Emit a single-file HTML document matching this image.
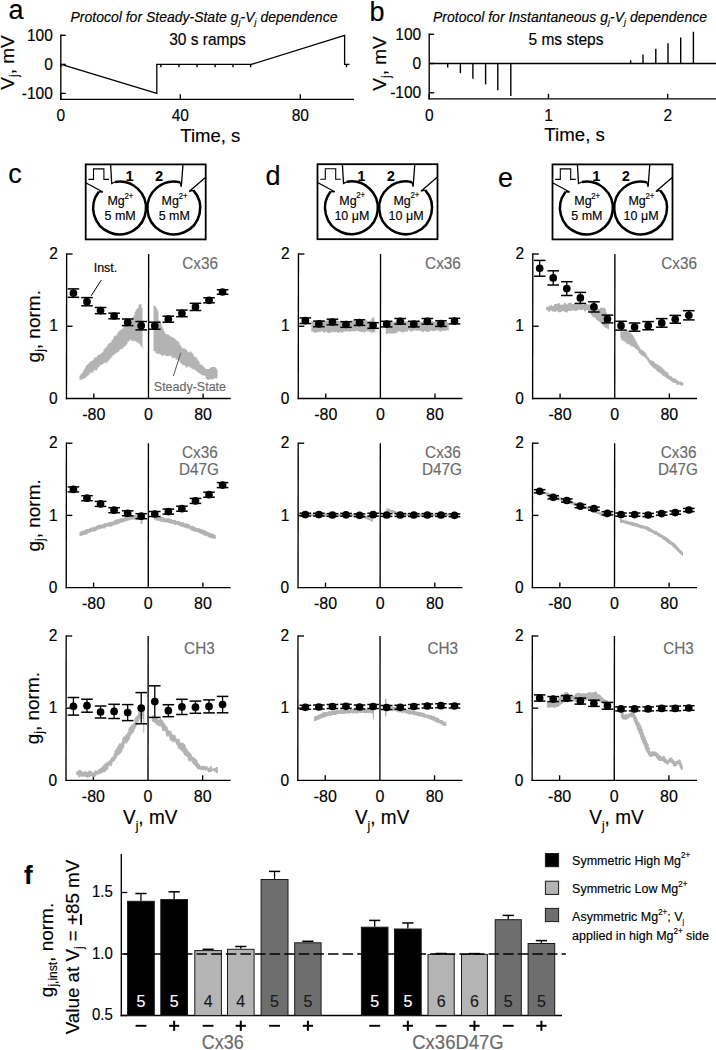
<!DOCTYPE html>
<html><head><meta charset="utf-8"><style>
html,body{margin:0;padding:0;background:#fff;width:716px;height:1050px;overflow:hidden}
svg{display:block}
text{font-family:"Liberation Sans", sans-serif;stroke-linejoin:round}
</style></head><body>
<svg width="716" height="1050" viewBox="0 0 716 1050">
<rect width="716" height="1050" fill="#fff"/>
<line x1="60.8" y1="34.6" x2="60.8" y2="99.95" stroke="#000" stroke-width="1.35" />
<line x1="60.15" y1="99.3" x2="354" y2="99.3" stroke="#000" stroke-width="1.35" />
<line x1="60.8" y1="35.3" x2="65.8" y2="35.3" stroke="#000" stroke-width="1.35" />
<line x1="60.8" y1="64.4" x2="65.8" y2="64.4" stroke="#000" stroke-width="1.35" />
<line x1="60.8" y1="93.4" x2="65.8" y2="93.4" stroke="#000" stroke-width="1.35" />
<line x1="60.8" y1="99.3" x2="60.8" y2="94.3" stroke="#000" stroke-width="1.35" />
<line x1="180.3" y1="99.3" x2="180.3" y2="94.3" stroke="#000" stroke-width="1.35" />
<line x1="300.3" y1="99.3" x2="300.3" y2="94.3" stroke="#000" stroke-width="1.35" />
<text transform="translate(52.8,40.8) scale(1,1.08)" font-size="15.5" text-anchor="end" fill="#000" stroke="#000" stroke-width="0.15" font-weight="normal" font-style="normal" >100</text>
<text transform="translate(52.8,69.9) scale(1,1.08)" font-size="15.5" text-anchor="end" fill="#000" stroke="#000" stroke-width="0.15" font-weight="normal" font-style="normal" >0</text>
<text transform="translate(52.8,98.9) scale(1,1.08)" font-size="15.5" text-anchor="end" fill="#000" stroke="#000" stroke-width="0.15" font-weight="normal" font-style="normal" >-100</text>
<text transform="translate(60.8,121.4) scale(1,1.08)" font-size="15.5" text-anchor="middle" fill="#000" stroke="#000" stroke-width="0.15" font-weight="normal" font-style="normal" >0</text>
<text transform="translate(180.3,121.4) scale(1,1.08)" font-size="15.5" text-anchor="middle" fill="#000" stroke="#000" stroke-width="0.15" font-weight="normal" font-style="normal" >40</text>
<text transform="translate(300.3,121.4) scale(1,1.08)" font-size="15.5" text-anchor="middle" fill="#000" stroke="#000" stroke-width="0.15" font-weight="normal" font-style="normal" >80</text>
<polyline points="61.2,64.4 156.8,93.4 156.8,64.4 251.4,64.4 344.6,35.3 344.6,64.4 349.5,64.4" fill="none" stroke="#000" stroke-width="1.3" stroke-linejoin="miter"/>
<line x1="60.8" y1="64.4" x2="60.8" y2="67.2" stroke="#000" stroke-width="1.4" />
<line x1="160.9" y1="64.4" x2="160.9" y2="67.2" stroke="#000" stroke-width="1.4" />
<line x1="179" y1="64.4" x2="179" y2="67.2" stroke="#000" stroke-width="1.4" />
<line x1="197" y1="64.4" x2="197" y2="67.2" stroke="#000" stroke-width="1.4" />
<line x1="215.1" y1="64.4" x2="215.1" y2="67.2" stroke="#000" stroke-width="1.4" />
<line x1="233" y1="64.4" x2="233" y2="67.2" stroke="#000" stroke-width="1.4" />
<line x1="250.6" y1="64.4" x2="250.6" y2="67.2" stroke="#000" stroke-width="1.4" />
<line x1="346.5" y1="64.4" x2="346.5" y2="67.2" stroke="#000" stroke-width="1.4" />
<line x1="429.2" y1="33.6" x2="429.2" y2="99.45" stroke="#000" stroke-width="1.35" />
<line x1="428.55" y1="98.8" x2="716" y2="98.8" stroke="#000" stroke-width="1.35" />
<line x1="429.2" y1="34.3" x2="434.2" y2="34.3" stroke="#000" stroke-width="1.35" />
<line x1="429.2" y1="63.5" x2="434.2" y2="63.5" stroke="#000" stroke-width="1.35" />
<line x1="429.2" y1="92.8" x2="434.2" y2="92.8" stroke="#000" stroke-width="1.35" />
<line x1="429.2" y1="98.8" x2="429.2" y2="93.8" stroke="#000" stroke-width="1.35" />
<line x1="548.5" y1="98.8" x2="548.5" y2="93.8" stroke="#000" stroke-width="1.35" />
<line x1="667.7" y1="98.8" x2="667.7" y2="93.8" stroke="#000" stroke-width="1.35" />
<text transform="translate(421.2,39.8) scale(1,1.08)" font-size="15.5" text-anchor="end" fill="#000" stroke="#000" stroke-width="0.15" font-weight="normal" font-style="normal" >100</text>
<text transform="translate(421.2,69) scale(1,1.08)" font-size="15.5" text-anchor="end" fill="#000" stroke="#000" stroke-width="0.15" font-weight="normal" font-style="normal" >0</text>
<text transform="translate(421.2,98.3) scale(1,1.08)" font-size="15.5" text-anchor="end" fill="#000" stroke="#000" stroke-width="0.15" font-weight="normal" font-style="normal" >-100</text>
<text transform="translate(429.2,121.4) scale(1,1.08)" font-size="15.5" text-anchor="middle" fill="#000" stroke="#000" stroke-width="0.15" font-weight="normal" font-style="normal" >0</text>
<text transform="translate(548.5,121.4) scale(1,1.08)" font-size="15.5" text-anchor="middle" fill="#000" stroke="#000" stroke-width="0.15" font-weight="normal" font-style="normal" >1</text>
<text transform="translate(667.7,121.4) scale(1,1.08)" font-size="15.5" text-anchor="middle" fill="#000" stroke="#000" stroke-width="0.15" font-weight="normal" font-style="normal" >2</text>
<line x1="429.2" y1="63.5" x2="716" y2="63.5" stroke="#000" stroke-width="1.35" />
<line x1="447.7" y1="63.5" x2="447.7" y2="67.4" stroke="#000" stroke-width="1.4" />
<line x1="460.4" y1="63.5" x2="460.4" y2="73" stroke="#000" stroke-width="1.4" />
<line x1="472.9" y1="63.5" x2="472.9" y2="78.8" stroke="#000" stroke-width="1.4" />
<line x1="485.6" y1="63.5" x2="485.6" y2="84.4" stroke="#000" stroke-width="1.4" />
<line x1="497.8" y1="63.5" x2="497.8" y2="90.2" stroke="#000" stroke-width="1.4" />
<line x1="510.8" y1="63.5" x2="510.8" y2="96.1" stroke="#000" stroke-width="1.4" />
<line x1="630.6" y1="63.5" x2="630.6" y2="60.2" stroke="#000" stroke-width="1.4" />
<line x1="643" y1="63.5" x2="643" y2="54.6" stroke="#000" stroke-width="1.4" />
<line x1="655.8" y1="63.5" x2="655.8" y2="48.8" stroke="#000" stroke-width="1.4" />
<line x1="668" y1="63.5" x2="668" y2="43.2" stroke="#000" stroke-width="1.4" />
<line x1="680.7" y1="63.5" x2="680.7" y2="37.4" stroke="#000" stroke-width="1.4" />
<line x1="693.4" y1="63.5" x2="693.4" y2="31.8" stroke="#000" stroke-width="1.4" />
<text transform="translate(70.5,22) scale(1,1.08)" font-size="14" text-anchor="start" fill="#000" stroke="#000" stroke-width="0.15" font-weight="normal" font-style="italic" >Protocol for Steady-State g<tspan font-size="9" dy="3">j</tspan><tspan dy="-3">-V</tspan><tspan font-size="9" dy="3">j</tspan><tspan dy="-3"> dependence</tspan></text>
<text transform="translate(433,22) scale(1,1.08)" font-size="14" text-anchor="start" fill="#000" stroke="#000" stroke-width="0.15" font-weight="normal" font-style="italic" >Protocol for Instantaneous g<tspan font-size="9" dy="3">j</tspan><tspan dy="-3">-V</tspan><tspan font-size="9" dy="3">j</tspan><tspan dy="-3"> dependence</tspan></text>
<text transform="translate(207.5,45.4) scale(1,1.08)" font-size="15.5" text-anchor="middle" fill="#000" stroke="#000" stroke-width="0.15" font-weight="normal" font-style="normal" >30 s ramps</text>
<text transform="translate(566,45.4) scale(1,1.08)" font-size="15.5" text-anchor="middle" fill="#000" stroke="#000" stroke-width="0.15" font-weight="normal" font-style="normal" >5 ms steps</text>
<text transform="translate(210.3,141.6) scale(1,1)" font-size="18.5" text-anchor="middle" fill="#000" stroke="#000" stroke-width="0.15" font-weight="normal" font-style="normal" >Time, s</text>
<text transform="translate(574.6,141.3) scale(1,1)" font-size="18.7" text-anchor="middle" fill="#000" stroke="#000" stroke-width="0.15" font-weight="normal" font-style="normal" >Time, s</text>
<text transform="translate(13.8,62.5) rotate(-90)" font-size="19" text-anchor="middle" fill="#000" stroke="#000" stroke-width="0.15">V<tspan font-size="12" dy="4">j</tspan><tspan dy="-4">, mV</tspan></text>
<text transform="translate(386,63.5) rotate(-90)" font-size="19" text-anchor="middle" fill="#000" stroke="#000" stroke-width="0.15">V<tspan font-size="12" dy="4">j</tspan><tspan dy="-4">, mV</tspan></text>
<text transform="translate(8.5,19) scale(1,1)" font-size="27" text-anchor="start" fill="#000" stroke="#000" stroke-width="0.15" font-weight="normal" font-style="normal" >a</text>
<text transform="translate(369.6,21) scale(1,1)" font-size="27" text-anchor="start" fill="#000" stroke="#000" stroke-width="0.15" font-weight="normal" font-style="normal" >b</text>
<rect x="85.7" y="164.4" width="120" height="75" fill="none" stroke="#000" stroke-width="1.8"/>
<path d="M115.02,182 A26.4,26.4 0 1 1 98.8,191.75" fill="none" stroke="#000" stroke-width="2.5"/>
<polyline points="85.7,182.7 102.9,192 98.8,191.75" fill="none" stroke="#000" stroke-width="1.3" stroke-linejoin="miter"/>
<polyline points="110.6,164.4 111.7,183.6 115.02,182" fill="none" stroke="#000" stroke-width="1.3" stroke-linejoin="miter"/>
<path d="M193.42,190.33 A26.4,26.4 0 1 1 180.19,182.38" fill="none" stroke="#000" stroke-width="2.5"/>
<polyline points="205.7,177.3 189.1,191.4 193.42,190.33" fill="none" stroke="#000" stroke-width="1.3" stroke-linejoin="miter"/>
<polyline points="183,164.4 181.3,186.8 180.19,182.38" fill="none" stroke="#000" stroke-width="1.3" stroke-linejoin="miter"/>
<polyline points="88.4,179.4 93.5,179.4 93.5,168.9 103.9,168.9 103.9,179.4 109,179.4" fill="none" stroke="#000" stroke-width="1.1" stroke-linejoin="miter"/>
<text transform="translate(129.6,180.8) scale(1,1.0)" font-size="14" text-anchor="middle" fill="#000" stroke="#000" stroke-width="0.15" font-weight="bold" font-style="normal" >1</text>
<text transform="translate(159.2,180.8) scale(1,1.0)" font-size="14" text-anchor="middle" fill="#000" stroke="#000" stroke-width="0.15" font-weight="bold" font-style="normal" >2</text>
<text transform="translate(116.1,205) scale(1,1.08)" font-size="12.5" text-anchor="middle" fill="#000" stroke="#000" stroke-width="0.15" font-weight="normal" font-style="normal" >Mg</text>
<text transform="translate(128.9,198.6) scale(1,1.08)" font-size="7.8" text-anchor="middle" fill="#000" stroke="#000" stroke-width="0.15" font-weight="normal" font-style="normal" >2+</text>
<text transform="translate(120.1,220) scale(1,1.08)" font-size="12.5" text-anchor="middle" fill="#000" stroke="#000" stroke-width="0.15" font-weight="normal" font-style="normal" >5 mM</text>
<text transform="translate(170.3,205) scale(1,1.08)" font-size="12.5" text-anchor="middle" fill="#000" stroke="#000" stroke-width="0.15" font-weight="normal" font-style="normal" >Mg</text>
<text transform="translate(183.1,198.6) scale(1,1.08)" font-size="7.8" text-anchor="middle" fill="#000" stroke="#000" stroke-width="0.15" font-weight="normal" font-style="normal" >2+</text>
<text transform="translate(174.3,220) scale(1,1.08)" font-size="12.5" text-anchor="middle" fill="#000" stroke="#000" stroke-width="0.15" font-weight="normal" font-style="normal" >5 mM</text>
<rect x="317.5" y="164.2" width="120" height="75" fill="none" stroke="#000" stroke-width="1.8"/>
<path d="M346.82,181.8 A26.4,26.4 0 1 1 330.6,191.55" fill="none" stroke="#000" stroke-width="2.5"/>
<polyline points="317.5,182.5 334.7,191.8 330.6,191.55" fill="none" stroke="#000" stroke-width="1.3" stroke-linejoin="miter"/>
<polyline points="342.4,164.2 343.5,183.4 346.82,181.8" fill="none" stroke="#000" stroke-width="1.3" stroke-linejoin="miter"/>
<path d="M425.22,190.13 A26.4,26.4 0 1 1 411.99,182.18" fill="none" stroke="#000" stroke-width="2.5"/>
<polyline points="437.5,177.1 420.9,191.2 425.22,190.13" fill="none" stroke="#000" stroke-width="1.3" stroke-linejoin="miter"/>
<polyline points="414.8,164.2 413.1,186.6 411.99,182.18" fill="none" stroke="#000" stroke-width="1.3" stroke-linejoin="miter"/>
<polyline points="320.2,179.2 325.3,179.2 325.3,168.7 335.7,168.7 335.7,179.2 340.8,179.2" fill="none" stroke="#000" stroke-width="1.1" stroke-linejoin="miter"/>
<text transform="translate(361.4,180.6) scale(1,1.0)" font-size="14" text-anchor="middle" fill="#000" stroke="#000" stroke-width="0.15" font-weight="bold" font-style="normal" >1</text>
<text transform="translate(391,180.6) scale(1,1.0)" font-size="14" text-anchor="middle" fill="#000" stroke="#000" stroke-width="0.15" font-weight="bold" font-style="normal" >2</text>
<text transform="translate(347.9,204.8) scale(1,1.08)" font-size="12.5" text-anchor="middle" fill="#000" stroke="#000" stroke-width="0.15" font-weight="normal" font-style="normal" >Mg</text>
<text transform="translate(360.7,198.4) scale(1,1.08)" font-size="7.8" text-anchor="middle" fill="#000" stroke="#000" stroke-width="0.15" font-weight="normal" font-style="normal" >2+</text>
<text transform="translate(351.9,219.8) scale(1,1.08)" font-size="12.5" text-anchor="middle" fill="#000" stroke="#000" stroke-width="0.15" font-weight="normal" font-style="normal" >10 &#956;M</text>
<text transform="translate(402.1,204.8) scale(1,1.08)" font-size="12.5" text-anchor="middle" fill="#000" stroke="#000" stroke-width="0.15" font-weight="normal" font-style="normal" >Mg</text>
<text transform="translate(414.9,198.4) scale(1,1.08)" font-size="7.8" text-anchor="middle" fill="#000" stroke="#000" stroke-width="0.15" font-weight="normal" font-style="normal" >2+</text>
<text transform="translate(406.1,219.8) scale(1,1.08)" font-size="12.5" text-anchor="middle" fill="#000" stroke="#000" stroke-width="0.15" font-weight="normal" font-style="normal" >10 &#956;M</text>
<rect x="552.5" y="164.4" width="120" height="75" fill="none" stroke="#000" stroke-width="1.8"/>
<path d="M581.82,182 A26.4,26.4 0 1 1 565.6,191.75" fill="none" stroke="#000" stroke-width="2.5"/>
<polyline points="552.5,182.7 569.7,192 565.6,191.75" fill="none" stroke="#000" stroke-width="1.3" stroke-linejoin="miter"/>
<polyline points="577.4,164.4 578.5,183.6 581.82,182" fill="none" stroke="#000" stroke-width="1.3" stroke-linejoin="miter"/>
<path d="M660.22,190.33 A26.4,26.4 0 1 1 646.99,182.38" fill="none" stroke="#000" stroke-width="2.5"/>
<polyline points="672.5,177.3 655.9,191.4 660.22,190.33" fill="none" stroke="#000" stroke-width="1.3" stroke-linejoin="miter"/>
<polyline points="649.8,164.4 648.1,186.8 646.99,182.38" fill="none" stroke="#000" stroke-width="1.3" stroke-linejoin="miter"/>
<polyline points="555.2,179.4 560.3,179.4 560.3,168.9 570.7,168.9 570.7,179.4 575.8,179.4" fill="none" stroke="#000" stroke-width="1.1" stroke-linejoin="miter"/>
<text transform="translate(596.4,180.8) scale(1,1.0)" font-size="14" text-anchor="middle" fill="#000" stroke="#000" stroke-width="0.15" font-weight="bold" font-style="normal" >1</text>
<text transform="translate(626,180.8) scale(1,1.0)" font-size="14" text-anchor="middle" fill="#000" stroke="#000" stroke-width="0.15" font-weight="bold" font-style="normal" >2</text>
<text transform="translate(582.9,205) scale(1,1.08)" font-size="12.5" text-anchor="middle" fill="#000" stroke="#000" stroke-width="0.15" font-weight="normal" font-style="normal" >Mg</text>
<text transform="translate(595.7,198.6) scale(1,1.08)" font-size="7.8" text-anchor="middle" fill="#000" stroke="#000" stroke-width="0.15" font-weight="normal" font-style="normal" >2+</text>
<text transform="translate(586.9,220) scale(1,1.08)" font-size="12.5" text-anchor="middle" fill="#000" stroke="#000" stroke-width="0.15" font-weight="normal" font-style="normal" >5 mM</text>
<text transform="translate(637.1,205) scale(1,1.08)" font-size="12.5" text-anchor="middle" fill="#000" stroke="#000" stroke-width="0.15" font-weight="normal" font-style="normal" >Mg</text>
<text transform="translate(649.9,198.6) scale(1,1.08)" font-size="7.8" text-anchor="middle" fill="#000" stroke="#000" stroke-width="0.15" font-weight="normal" font-style="normal" >2+</text>
<text transform="translate(641.1,220) scale(1,1.08)" font-size="12.5" text-anchor="middle" fill="#000" stroke="#000" stroke-width="0.15" font-weight="normal" font-style="normal" >10 &#956;M</text>
<text transform="translate(8.2,183.2) scale(1,1)" font-size="27" text-anchor="start" fill="#000" stroke="#000" stroke-width="0.15" font-weight="normal" font-style="normal" >c</text>
<text transform="translate(265.4,184.5) scale(1,1)" font-size="27" text-anchor="start" fill="#000" stroke="#000" stroke-width="0.15" font-weight="normal" font-style="normal" >d</text>
<text transform="translate(498,186.6) scale(1,1)" font-size="27" text-anchor="start" fill="#000" stroke="#000" stroke-width="0.15" font-weight="normal" font-style="normal" >e</text>
<line x1="66.65" y1="253.35" x2="66.47" y2="399.15" stroke="#000" stroke-width="1.35" />
<line x1="65.82" y1="398.5" x2="230.7" y2="398.5" stroke="#000" stroke-width="1.35" />
<line x1="66.65" y1="254" x2="72.65" y2="254" stroke="#000" stroke-width="1.35" />
<line x1="66.56" y1="326.25" x2="72.56" y2="326.25" stroke="#000" stroke-width="1.35" />
<line x1="148.65" y1="254" x2="148.47" y2="398.5" stroke="#000" stroke-width="1.35" />
<line x1="93.83" y1="398.5" x2="93.83" y2="393.5" stroke="#000" stroke-width="1.35" />
<line x1="203.11" y1="398.5" x2="203.11" y2="393.5" stroke="#000" stroke-width="1.35" />
<text transform="translate(57.85,259.2) scale(1,1.02)" font-size="15.5" text-anchor="end" fill="#000" stroke="#000" stroke-width="0.15" font-weight="normal" font-style="normal" >2</text>
<text transform="translate(57.76,331.45) scale(1,1.02)" font-size="15.5" text-anchor="end" fill="#000" stroke="#000" stroke-width="0.15" font-weight="normal" font-style="normal" >1</text>
<text transform="translate(57.67,403.7) scale(1,1.02)" font-size="15.5" text-anchor="end" fill="#000" stroke="#000" stroke-width="0.15" font-weight="normal" font-style="normal" >0</text>
<text transform="translate(93.83,420.2) scale(1,1.03)" font-size="16" text-anchor="middle" fill="#000" stroke="#000" stroke-width="0.15" font-weight="normal" font-style="normal" >-80</text>
<text transform="translate(148.47,420.2) scale(1,1.03)" font-size="16" text-anchor="middle" fill="#000" stroke="#000" stroke-width="0.15" font-weight="normal" font-style="normal" >0</text>
<text transform="translate(203.11,420.2) scale(1,1.03)" font-size="16" text-anchor="middle" fill="#000" stroke="#000" stroke-width="0.15" font-weight="normal" font-style="normal" >80</text>
<text transform="translate(39.86,326.25) rotate(-90)" font-size="19" text-anchor="middle" fill="#000" stroke="#000" stroke-width="0.15">g<tspan font-size="12" dy="4">j</tspan><tspan dy="-4">, norm.</tspan></text>
<line x1="66.42" y1="442.55" x2="66.24" y2="588.25" stroke="#000" stroke-width="1.35" />
<line x1="65.59" y1="587.6" x2="230.7" y2="587.6" stroke="#000" stroke-width="1.35" />
<line x1="66.42" y1="443.2" x2="72.42" y2="443.2" stroke="#000" stroke-width="1.35" />
<line x1="66.33" y1="515.4" x2="72.33" y2="515.4" stroke="#000" stroke-width="1.35" />
<line x1="148.42" y1="443.2" x2="148.24" y2="587.6" stroke="#000" stroke-width="1.35" />
<line x1="93.6" y1="587.6" x2="93.6" y2="582.6" stroke="#000" stroke-width="1.35" />
<line x1="202.88" y1="587.6" x2="202.88" y2="582.6" stroke="#000" stroke-width="1.35" />
<text transform="translate(57.62,448.4) scale(1,1.02)" font-size="15.5" text-anchor="end" fill="#000" stroke="#000" stroke-width="0.15" font-weight="normal" font-style="normal" >2</text>
<text transform="translate(57.53,520.6) scale(1,1.02)" font-size="15.5" text-anchor="end" fill="#000" stroke="#000" stroke-width="0.15" font-weight="normal" font-style="normal" >1</text>
<text transform="translate(57.44,592.8) scale(1,1.02)" font-size="15.5" text-anchor="end" fill="#000" stroke="#000" stroke-width="0.15" font-weight="normal" font-style="normal" >0</text>
<text transform="translate(93.6,609.3) scale(1,1.03)" font-size="16" text-anchor="middle" fill="#000" stroke="#000" stroke-width="0.15" font-weight="normal" font-style="normal" >-80</text>
<text transform="translate(148.24,609.3) scale(1,1.03)" font-size="16" text-anchor="middle" fill="#000" stroke="#000" stroke-width="0.15" font-weight="normal" font-style="normal" >0</text>
<text transform="translate(202.88,609.3) scale(1,1.03)" font-size="16" text-anchor="middle" fill="#000" stroke="#000" stroke-width="0.15" font-weight="normal" font-style="normal" >80</text>
<text transform="translate(39.63,515.4) rotate(-90)" font-size="19" text-anchor="middle" fill="#000" stroke="#000" stroke-width="0.15">g<tspan font-size="12" dy="4">j</tspan><tspan dy="-4">, norm.</tspan></text>
<line x1="66.18" y1="635.35" x2="66" y2="780.95" stroke="#000" stroke-width="1.35" />
<line x1="65.35" y1="780.3" x2="230.7" y2="780.3" stroke="#000" stroke-width="1.35" />
<line x1="66.18" y1="636" x2="72.18" y2="636" stroke="#000" stroke-width="1.35" />
<line x1="66.09" y1="708.15" x2="72.09" y2="708.15" stroke="#000" stroke-width="1.35" />
<line x1="148.18" y1="636" x2="148" y2="780.3" stroke="#000" stroke-width="1.35" />
<line x1="93.36" y1="780.3" x2="93.36" y2="775.3" stroke="#000" stroke-width="1.35" />
<line x1="202.64" y1="780.3" x2="202.64" y2="775.3" stroke="#000" stroke-width="1.35" />
<text transform="translate(57.38,641.2) scale(1,1.02)" font-size="15.5" text-anchor="end" fill="#000" stroke="#000" stroke-width="0.15" font-weight="normal" font-style="normal" >2</text>
<text transform="translate(57.29,713.35) scale(1,1.02)" font-size="15.5" text-anchor="end" fill="#000" stroke="#000" stroke-width="0.15" font-weight="normal" font-style="normal" >1</text>
<text transform="translate(57.2,785.5) scale(1,1.02)" font-size="15.5" text-anchor="end" fill="#000" stroke="#000" stroke-width="0.15" font-weight="normal" font-style="normal" >0</text>
<text transform="translate(93.36,802) scale(1,1.03)" font-size="16" text-anchor="middle" fill="#000" stroke="#000" stroke-width="0.15" font-weight="normal" font-style="normal" >-80</text>
<text transform="translate(148,802) scale(1,1.03)" font-size="16" text-anchor="middle" fill="#000" stroke="#000" stroke-width="0.15" font-weight="normal" font-style="normal" >0</text>
<text transform="translate(202.64,802) scale(1,1.03)" font-size="16" text-anchor="middle" fill="#000" stroke="#000" stroke-width="0.15" font-weight="normal" font-style="normal" >80</text>
<text transform="translate(39.39,708.15) rotate(-90)" font-size="19" text-anchor="middle" fill="#000" stroke="#000" stroke-width="0.15">g<tspan font-size="12" dy="4">j</tspan><tspan dy="-4">, norm.</tspan></text>
<text transform="translate(150.2,824) scale(1,1.08)" font-size="19" text-anchor="middle" fill="#000" stroke="#000" stroke-width="0.15" font-weight="normal" font-style="normal" >V<tspan font-size="12" dy="5.5">j</tspan><tspan dy="-5.5">, mV</tspan></text>
<line x1="298.45" y1="253.35" x2="298.27" y2="399.15" stroke="#000" stroke-width="1.35" />
<line x1="297.62" y1="398.5" x2="462.4" y2="398.5" stroke="#000" stroke-width="1.35" />
<line x1="298.45" y1="254" x2="304.45" y2="254" stroke="#000" stroke-width="1.35" />
<line x1="298.36" y1="326.25" x2="304.36" y2="326.25" stroke="#000" stroke-width="1.35" />
<line x1="380.55" y1="254" x2="380.37" y2="398.5" stroke="#000" stroke-width="1.35" />
<line x1="325.73" y1="398.5" x2="325.73" y2="393.5" stroke="#000" stroke-width="1.35" />
<line x1="435.01" y1="398.5" x2="435.01" y2="393.5" stroke="#000" stroke-width="1.35" />
<text transform="translate(289.65,259.2) scale(1,1.02)" font-size="15.5" text-anchor="end" fill="#000" stroke="#000" stroke-width="0.15" font-weight="normal" font-style="normal" >2</text>
<text transform="translate(289.56,331.45) scale(1,1.02)" font-size="15.5" text-anchor="end" fill="#000" stroke="#000" stroke-width="0.15" font-weight="normal" font-style="normal" >1</text>
<text transform="translate(289.47,403.7) scale(1,1.02)" font-size="15.5" text-anchor="end" fill="#000" stroke="#000" stroke-width="0.15" font-weight="normal" font-style="normal" >0</text>
<text transform="translate(325.73,420.2) scale(1,1.03)" font-size="16" text-anchor="middle" fill="#000" stroke="#000" stroke-width="0.15" font-weight="normal" font-style="normal" >-80</text>
<text transform="translate(380.37,420.2) scale(1,1.03)" font-size="16" text-anchor="middle" fill="#000" stroke="#000" stroke-width="0.15" font-weight="normal" font-style="normal" >0</text>
<text transform="translate(435.01,420.2) scale(1,1.03)" font-size="16" text-anchor="middle" fill="#000" stroke="#000" stroke-width="0.15" font-weight="normal" font-style="normal" >80</text>
<line x1="298.22" y1="442.55" x2="298.04" y2="588.25" stroke="#000" stroke-width="1.35" />
<line x1="297.39" y1="587.6" x2="462.4" y2="587.6" stroke="#000" stroke-width="1.35" />
<line x1="298.22" y1="443.2" x2="304.22" y2="443.2" stroke="#000" stroke-width="1.35" />
<line x1="298.13" y1="515.4" x2="304.13" y2="515.4" stroke="#000" stroke-width="1.35" />
<line x1="380.32" y1="443.2" x2="380.14" y2="587.6" stroke="#000" stroke-width="1.35" />
<line x1="325.5" y1="587.6" x2="325.5" y2="582.6" stroke="#000" stroke-width="1.35" />
<line x1="434.78" y1="587.6" x2="434.78" y2="582.6" stroke="#000" stroke-width="1.35" />
<text transform="translate(289.42,448.4) scale(1,1.02)" font-size="15.5" text-anchor="end" fill="#000" stroke="#000" stroke-width="0.15" font-weight="normal" font-style="normal" >2</text>
<text transform="translate(289.33,520.6) scale(1,1.02)" font-size="15.5" text-anchor="end" fill="#000" stroke="#000" stroke-width="0.15" font-weight="normal" font-style="normal" >1</text>
<text transform="translate(289.24,592.8) scale(1,1.02)" font-size="15.5" text-anchor="end" fill="#000" stroke="#000" stroke-width="0.15" font-weight="normal" font-style="normal" >0</text>
<text transform="translate(325.5,609.3) scale(1,1.03)" font-size="16" text-anchor="middle" fill="#000" stroke="#000" stroke-width="0.15" font-weight="normal" font-style="normal" >-80</text>
<text transform="translate(380.14,609.3) scale(1,1.03)" font-size="16" text-anchor="middle" fill="#000" stroke="#000" stroke-width="0.15" font-weight="normal" font-style="normal" >0</text>
<text transform="translate(434.78,609.3) scale(1,1.03)" font-size="16" text-anchor="middle" fill="#000" stroke="#000" stroke-width="0.15" font-weight="normal" font-style="normal" >80</text>
<line x1="297.98" y1="635.35" x2="297.8" y2="780.95" stroke="#000" stroke-width="1.35" />
<line x1="297.15" y1="780.3" x2="462.4" y2="780.3" stroke="#000" stroke-width="1.35" />
<line x1="297.98" y1="636" x2="303.98" y2="636" stroke="#000" stroke-width="1.35" />
<line x1="297.89" y1="708.15" x2="303.89" y2="708.15" stroke="#000" stroke-width="1.35" />
<line x1="380.08" y1="636" x2="379.9" y2="780.3" stroke="#000" stroke-width="1.35" />
<line x1="325.26" y1="780.3" x2="325.26" y2="775.3" stroke="#000" stroke-width="1.35" />
<line x1="434.54" y1="780.3" x2="434.54" y2="775.3" stroke="#000" stroke-width="1.35" />
<text transform="translate(289.18,641.2) scale(1,1.02)" font-size="15.5" text-anchor="end" fill="#000" stroke="#000" stroke-width="0.15" font-weight="normal" font-style="normal" >2</text>
<text transform="translate(289.09,713.35) scale(1,1.02)" font-size="15.5" text-anchor="end" fill="#000" stroke="#000" stroke-width="0.15" font-weight="normal" font-style="normal" >1</text>
<text transform="translate(289,785.5) scale(1,1.02)" font-size="15.5" text-anchor="end" fill="#000" stroke="#000" stroke-width="0.15" font-weight="normal" font-style="normal" >0</text>
<text transform="translate(325.26,802) scale(1,1.03)" font-size="16" text-anchor="middle" fill="#000" stroke="#000" stroke-width="0.15" font-weight="normal" font-style="normal" >-80</text>
<text transform="translate(379.9,802) scale(1,1.03)" font-size="16" text-anchor="middle" fill="#000" stroke="#000" stroke-width="0.15" font-weight="normal" font-style="normal" >0</text>
<text transform="translate(434.54,802) scale(1,1.03)" font-size="16" text-anchor="middle" fill="#000" stroke="#000" stroke-width="0.15" font-weight="normal" font-style="normal" >80</text>
<text transform="translate(382.1,824) scale(1,1.08)" font-size="19" text-anchor="middle" fill="#000" stroke="#000" stroke-width="0.15" font-weight="normal" font-style="normal" >V<tspan font-size="12" dy="5.5">j</tspan><tspan dy="-5.5">, mV</tspan></text>
<line x1="532.8" y1="253.35" x2="532.62" y2="399.15" stroke="#000" stroke-width="1.35" />
<line x1="531.97" y1="398.5" x2="697" y2="398.5" stroke="#000" stroke-width="1.35" />
<line x1="532.8" y1="254" x2="538.8" y2="254" stroke="#000" stroke-width="1.35" />
<line x1="532.71" y1="326.25" x2="538.71" y2="326.25" stroke="#000" stroke-width="1.35" />
<line x1="614.9" y1="254" x2="614.72" y2="398.5" stroke="#000" stroke-width="1.35" />
<line x1="560.08" y1="398.5" x2="560.08" y2="393.5" stroke="#000" stroke-width="1.35" />
<line x1="669.36" y1="398.5" x2="669.36" y2="393.5" stroke="#000" stroke-width="1.35" />
<text transform="translate(524,259.2) scale(1,1.02)" font-size="15.5" text-anchor="end" fill="#000" stroke="#000" stroke-width="0.15" font-weight="normal" font-style="normal" >2</text>
<text transform="translate(523.91,331.45) scale(1,1.02)" font-size="15.5" text-anchor="end" fill="#000" stroke="#000" stroke-width="0.15" font-weight="normal" font-style="normal" >1</text>
<text transform="translate(523.82,403.7) scale(1,1.02)" font-size="15.5" text-anchor="end" fill="#000" stroke="#000" stroke-width="0.15" font-weight="normal" font-style="normal" >0</text>
<text transform="translate(560.08,420.2) scale(1,1.03)" font-size="16" text-anchor="middle" fill="#000" stroke="#000" stroke-width="0.15" font-weight="normal" font-style="normal" >-80</text>
<text transform="translate(614.72,420.2) scale(1,1.03)" font-size="16" text-anchor="middle" fill="#000" stroke="#000" stroke-width="0.15" font-weight="normal" font-style="normal" >0</text>
<text transform="translate(669.36,420.2) scale(1,1.03)" font-size="16" text-anchor="middle" fill="#000" stroke="#000" stroke-width="0.15" font-weight="normal" font-style="normal" >80</text>
<line x1="532.57" y1="442.55" x2="532.39" y2="588.25" stroke="#000" stroke-width="1.35" />
<line x1="531.74" y1="587.6" x2="697" y2="587.6" stroke="#000" stroke-width="1.35" />
<line x1="532.57" y1="443.2" x2="538.57" y2="443.2" stroke="#000" stroke-width="1.35" />
<line x1="532.48" y1="515.4" x2="538.48" y2="515.4" stroke="#000" stroke-width="1.35" />
<line x1="614.67" y1="443.2" x2="614.49" y2="587.6" stroke="#000" stroke-width="1.35" />
<line x1="559.85" y1="587.6" x2="559.85" y2="582.6" stroke="#000" stroke-width="1.35" />
<line x1="669.13" y1="587.6" x2="669.13" y2="582.6" stroke="#000" stroke-width="1.35" />
<text transform="translate(523.77,448.4) scale(1,1.02)" font-size="15.5" text-anchor="end" fill="#000" stroke="#000" stroke-width="0.15" font-weight="normal" font-style="normal" >2</text>
<text transform="translate(523.68,520.6) scale(1,1.02)" font-size="15.5" text-anchor="end" fill="#000" stroke="#000" stroke-width="0.15" font-weight="normal" font-style="normal" >1</text>
<text transform="translate(523.59,592.8) scale(1,1.02)" font-size="15.5" text-anchor="end" fill="#000" stroke="#000" stroke-width="0.15" font-weight="normal" font-style="normal" >0</text>
<text transform="translate(559.85,609.3) scale(1,1.03)" font-size="16" text-anchor="middle" fill="#000" stroke="#000" stroke-width="0.15" font-weight="normal" font-style="normal" >-80</text>
<text transform="translate(614.49,609.3) scale(1,1.03)" font-size="16" text-anchor="middle" fill="#000" stroke="#000" stroke-width="0.15" font-weight="normal" font-style="normal" >0</text>
<text transform="translate(669.13,609.3) scale(1,1.03)" font-size="16" text-anchor="middle" fill="#000" stroke="#000" stroke-width="0.15" font-weight="normal" font-style="normal" >80</text>
<line x1="532.33" y1="635.35" x2="532.15" y2="780.95" stroke="#000" stroke-width="1.35" />
<line x1="531.5" y1="780.3" x2="697" y2="780.3" stroke="#000" stroke-width="1.35" />
<line x1="532.33" y1="636" x2="538.33" y2="636" stroke="#000" stroke-width="1.35" />
<line x1="532.24" y1="708.15" x2="538.24" y2="708.15" stroke="#000" stroke-width="1.35" />
<line x1="614.43" y1="636" x2="614.25" y2="780.3" stroke="#000" stroke-width="1.35" />
<line x1="559.61" y1="780.3" x2="559.61" y2="775.3" stroke="#000" stroke-width="1.35" />
<line x1="668.89" y1="780.3" x2="668.89" y2="775.3" stroke="#000" stroke-width="1.35" />
<text transform="translate(523.53,641.2) scale(1,1.02)" font-size="15.5" text-anchor="end" fill="#000" stroke="#000" stroke-width="0.15" font-weight="normal" font-style="normal" >2</text>
<text transform="translate(523.44,713.35) scale(1,1.02)" font-size="15.5" text-anchor="end" fill="#000" stroke="#000" stroke-width="0.15" font-weight="normal" font-style="normal" >1</text>
<text transform="translate(523.35,785.5) scale(1,1.02)" font-size="15.5" text-anchor="end" fill="#000" stroke="#000" stroke-width="0.15" font-weight="normal" font-style="normal" >0</text>
<text transform="translate(559.61,802) scale(1,1.03)" font-size="16" text-anchor="middle" fill="#000" stroke="#000" stroke-width="0.15" font-weight="normal" font-style="normal" >-80</text>
<text transform="translate(614.25,802) scale(1,1.03)" font-size="16" text-anchor="middle" fill="#000" stroke="#000" stroke-width="0.15" font-weight="normal" font-style="normal" >0</text>
<text transform="translate(668.89,802) scale(1,1.03)" font-size="16" text-anchor="middle" fill="#000" stroke="#000" stroke-width="0.15" font-weight="normal" font-style="normal" >80</text>
<text transform="translate(616.45,824) scale(1,1.08)" font-size="19" text-anchor="middle" fill="#000" stroke="#000" stroke-width="0.15" font-weight="normal" font-style="normal" >V<tspan font-size="12" dy="5.5">j</tspan><tspan dy="-5.5">, mV</tspan></text>
<path d="M79.5,375.59h1V379.76h-1ZM80.5,374.02h1V379.76h-1ZM81.5,373.23h1V379.57h-1ZM82.5,371.66h1V378.77h-1ZM83.5,369.81h1V378.66h-1ZM84.5,368.24h1V377.85h-1ZM85.5,366.04h1V377.38h-1ZM86.5,365.04h1V376.58h-1ZM87.5,363.99h1V375.59h-1ZM88.5,362.99h1V374.78h-1ZM89.5,362.07h1V373.15h-1ZM90.5,361.07h1V372.34h-1ZM91.5,360.92h1V373.34h-1ZM92.5,359.92h1V372.6h-1ZM93.5,358.2h1V370.41h-1ZM94.5,357.2h1V369.66h-1ZM95.5,357.41h1V370.66h-1ZM96.5,356.41h1V369.92h-1ZM97.5,355.33h1V367.85h-1ZM98.5,354.49h1V367.11h-1ZM99.5,354.61h1V365.53h-1ZM100.5,353.77h1V364.78h-1ZM101.5,352.65h1V364.66h-1ZM102.5,351.81h1V363.98h-1ZM103.5,349.25h1V362.88h-1ZM104.5,348.41h1V362.2h-1ZM105.5,347.58h1V363.2h-1ZM106.5,346.25h1V362.52h-1ZM107.5,344.61h1V361.28h-1ZM108.5,343.28h1V360.6h-1ZM109.5,343.05h1V359.11h-1ZM110.5,341.73h1V358.12h-1ZM111.5,340.18h1V356.39h-1ZM112.5,338.88h1V355.4h-1ZM113.5,336.54h1V354.76h-1ZM114.5,335.38h1V353.77h-1ZM115.5,335.7h1V353.32h-1ZM116.5,334.53h1V352.41h-1ZM117.5,332.49h1V351.99h-1ZM118.5,331.32h1V351.2h-1ZM119.5,330.49h1V349.72h-1ZM120.5,329.49h1V348.89h-1ZM121.5,329.31h1V349.01h-1ZM122.5,328.31h1V348.18h-1ZM123.5,325.99h1V347.05h-1ZM124.5,324.99h1V345.92h-1ZM125.5,324.66h1V345.44h-1ZM126.5,323.66h1V344.24h-1ZM127.5,323.06h1V341.81h-1ZM128.5,321.98h1V341.21h-1ZM129.5,321.5h1V340.2h-1ZM130.5,320.41h1V339.6h-1ZM131.5,317.97h1V341.13h-1ZM132.5,316.89h1V341.27h-1ZM133.5,315.16h1V340.77h-1ZM134.5,311.91h1V340.92h-1ZM135.5,310.14h1V341.49h-1ZM136.5,308.64h1V342.18h-1ZM137.5,307.99h1V342.7h-1ZM138.5,304.69h1V343.54h-1ZM139.5,304.3h1V344.59h-1ZM140.5,304.3h1V346.25h-1ZM141.5,308.07h1V347.28h-1ZM142.5,347.47h1V348.47h-1Z" fill="#b3b3b3"/>
<path d="M153.5,306.05h1V351.04h-1ZM154.5,305.78h1V351.54h-1ZM155.5,307.34h1V353.22h-1ZM156.5,308.8h1V353.72h-1ZM157.5,311.62h1V353.51h-1ZM158.5,320.54h1V353.88h-1ZM159.5,321.65h1V354.35h-1ZM160.5,322.98h1V354.72h-1ZM161.5,326.25h1V355.8h-1ZM162.5,328.25h1V356.17h-1ZM163.5,330.67h1V354.73h-1ZM164.5,332.67h1V354.94h-1ZM165.5,333.63h1V356.07h-1ZM166.5,334.47h1V356.28h-1ZM167.5,334.32h1V355.99h-1ZM168.5,335.04h1V356.2h-1ZM169.5,336.1h1V355.58h-1ZM170.5,336.63h1V355.93h-1ZM171.5,336.9h1V357.85h-1ZM172.5,337.44h1V358.2h-1ZM173.5,338.14h1V357.3h-1ZM174.5,338.67h1V357.65h-1ZM175.5,339.83h1V359.5h-1ZM176.5,340.76h1V359.85h-1ZM177.5,341.22h1V359.38h-1ZM178.5,342.43h1V360.38h-1ZM179.5,344.76h1V362.42h-1ZM180.5,345.97h1V363.42h-1ZM181.5,347.82h1V364.37h-1ZM182.5,348.84h1V365.37h-1ZM183.5,348.11h1V365.3h-1ZM184.5,348.68h1V365.72h-1ZM185.5,349.44h1V367.26h-1ZM186.5,350h1V367.68h-1ZM187.5,352.01h1V366.34h-1ZM188.5,352.58h1V366.76h-1ZM189.5,351.27h1V367.38h-1ZM190.5,351.84h1V367.8h-1ZM191.5,352.86h1V368.83h-1ZM192.5,354.05h1V369.28h-1ZM193.5,356.09h1V369.33h-1ZM194.5,357.28h1V369.91h-1ZM195.5,357.07h1V370.86h-1ZM196.5,358.26h1V371.44h-1ZM197.5,360.29h1V372.37h-1ZM198.5,361.3h1V372.95h-1ZM199.5,363.72h1V373.83h-1ZM200.5,364.73h1V374.41h-1ZM201.5,364.69h1V374.9h-1ZM202.5,365.71h1V375.71h-1ZM203.5,367.11h1V375.17h-1ZM204.5,368.12h1V375.97h-1ZM205.5,368.96h1V378.52h-1ZM206.5,368.96h1V379.33h-1ZM207.5,368.9h1V380.01h-1ZM208.5,368.9h1V380.01h-1ZM209.5,367.74h1V379.06h-1ZM210.5,367.74h1V379.06h-1ZM211.5,367.05h1V379.62h-1ZM212.5,367.05h1V379.62h-1ZM213.5,366.95h1V378.26h-1ZM214.5,366.95h1V378.26h-1ZM215.5,368.09h1V378.49h-1ZM216.5,369.41h1V378.32h-1Z" fill="#b3b3b3"/>
<path d="M79.5,532.08h1V536.31h-1ZM80.5,531.62h1V535.97h-1ZM81.5,530.88h1V535.67h-1ZM82.5,530.48h1V535.27h-1ZM83.5,530.19h1V535.08h-1ZM84.5,529.79h1V534.68h-1ZM85.5,529.31h1V534.79h-1ZM86.5,528.91h1V534.39h-1ZM87.5,529.1h1V533.26h-1ZM88.5,528.7h1V532.86h-1ZM89.5,527.96h1V532.64h-1ZM90.5,527.62h1V532.28h-1ZM91.5,527.38h1V531.7h-1ZM92.5,527.03h1V531.35h-1ZM93.5,527.17h1V531.87h-1ZM94.5,526.82h1V531.52h-1ZM95.5,526.08h1V530.66h-1ZM96.5,525.74h1V530.31h-1ZM97.5,525.05h1V529.57h-1ZM98.5,524.77h1V529.26h-1ZM99.5,524.73h1V529.13h-1ZM100.5,524.44h1V528.84h-1ZM101.5,524.64h1V528.45h-1ZM102.5,524.35h1V528.16h-1ZM103.5,523.25h1V528.65h-1ZM104.5,522.96h1V528.36h-1ZM105.5,523.17h1V527.27h-1ZM106.5,522.88h1V526.98h-1ZM107.5,522.6h1V526.57h-1ZM108.5,522.31h1V526.27h-1ZM109.5,522h1V526.93h-1ZM110.5,521.71h1V526.64h-1ZM111.5,521.76h1V526.07h-1ZM112.5,521.43h1V525.79h-1ZM113.5,520.47h1V525.13h-1ZM114.5,520.12h1V524.78h-1ZM115.5,519.68h1V524.84h-1ZM116.5,519.33h1V524.49h-1ZM117.5,519.35h1V524.15h-1ZM118.5,519h1V523.8h-1ZM119.5,518.45h1V522.9h-1ZM120.5,518.1h1V522.55h-1ZM121.5,518.24h1V522.96h-1ZM122.5,517.89h1V522.61h-1ZM123.5,517.58h1V522.09h-1ZM124.5,517.23h1V521.74h-1ZM125.5,516.87h1V521.31h-1ZM126.5,516.65h1V520.97h-1ZM127.5,515.91h1V520.56h-1ZM128.5,515.75h1V520.4h-1ZM129.5,515.71h1V519.74h-1ZM130.5,515.54h1V519.58h-1ZM131.5,515.05h1V519.66h-1ZM132.5,514.88h1V519.49h-1ZM133.5,514.95h1V519.74h-1ZM134.5,514.81h1V519.54h-1ZM135.5,515.57h1V519.38h-1ZM136.5,515.65h1V519.45h-1ZM137.5,515.7h1V520.07h-1ZM138.5,515.78h1V520.14h-1ZM139.5,515.39h1V520.07h-1ZM140.5,514.56h1V524.1h-1ZM141.5,517.94h1V523.5h-1Z" fill="#b3b3b3"/>
<path d="M153.8,515.12h1V519.5h-1ZM154.8,515.32h1V519.73h-1ZM155.8,515.97h1V520.64h-1ZM156.8,516.18h1V520.86h-1ZM157.8,516.62h1V520.66h-1ZM158.8,516.84h1V520.88h-1ZM159.8,516.87h1V521.41h-1ZM160.8,517.08h1V521.63h-1ZM161.8,516.73h1V521.71h-1ZM162.8,516.95h1V521.92h-1ZM163.8,517.98h1V522.25h-1ZM164.8,518.19h1V522.45h-1ZM165.8,518.24h1V522.36h-1ZM166.8,518.44h1V522.56h-1ZM167.8,518.08h1V523.08h-1ZM168.8,518.29h1V523.29h-1ZM169.8,518.65h1V523.51h-1ZM170.8,518.84h1V523.72h-1ZM171.8,519.71h1V523.61h-1ZM172.8,520.01h1V523.92h-1ZM173.8,519.74h1V524.77h-1ZM174.8,520.04h1V525.07h-1ZM175.8,520.66h1V524.6h-1ZM176.8,520.96h1V524.9h-1ZM177.8,520.67h1V525.18h-1ZM178.8,520.97h1V525.48h-1ZM179.8,522.05h1V526.44h-1ZM180.8,522.35h1V526.74h-1ZM181.8,521.89h1V527.06h-1ZM182.8,522.19h1V527.36h-1ZM183.8,523.32h1V527.5h-1ZM184.8,523.61h1V527.86h-1ZM185.8,523.35h1V528.16h-1ZM186.8,523.74h1V528.55h-1ZM187.8,523.9h1V528.4h-1ZM188.8,524.29h1V528.79h-1ZM189.8,525.52h1V529.81h-1ZM190.8,525.91h1V530.2h-1ZM191.8,525.85h1V530.87h-1ZM192.8,526.24h1V531.26h-1ZM193.8,526.53h1V531.58h-1ZM194.8,526.92h1V531.97h-1ZM195.8,527.7h1V531.7h-1ZM196.8,528.09h1V532.08h-1ZM197.8,527.9h1V532.55h-1ZM198.8,528.29h1V532.94h-1ZM199.8,528.66h1V533.62h-1ZM200.8,529.05h1V534.01h-1ZM201.8,529.46h1V534.24h-1ZM202.8,529.86h1V534.64h-1ZM203.8,530.12h1V535.52h-1ZM204.8,530.52h1V535.92h-1ZM205.8,531.13h1V535.86h-1ZM206.8,531.53h1V536.26h-1ZM207.8,532.15h1V537.1h-1ZM208.8,532.55h1V537.49h-1ZM209.8,532.78h1V537.9h-1ZM210.8,533.17h1V538.29h-1ZM211.8,533.65h1V538.3h-1ZM212.8,534.04h1V538.7h-1ZM213.8,534.46h1V538.58h-1ZM214.8,534.92h1V538.9h-1Z" fill="#b3b3b3"/>
<path d="M76.3,771.13h1V775.31h-1ZM77.3,771.17h1V775.35h-1ZM78.3,769.82h1V777.37h-1ZM79.3,769.86h1V777.41h-1ZM80.3,770.44h1V776.41h-1ZM81.3,770.48h1V776.45h-1ZM82.3,772.3h1V776.76h-1ZM83.3,772.34h1V776.8h-1ZM84.3,771.1h1V776.72h-1ZM85.3,771.15h1V776.77h-1ZM86.3,771.92h1V777.66h-1ZM87.3,771.97h1V777.7h-1ZM88.3,770.57h1V777.03h-1ZM89.3,770.61h1V777.07h-1ZM90.3,771.11h1V776.21h-1ZM91.3,771.15h1V776.25h-1ZM92.3,772.74h1V777.06h-1ZM93.3,772.03h1V776.77h-1ZM94.3,770.85h1V777.08h-1ZM95.3,770.35h1V776.58h-1ZM96.3,770.97h1V775.06h-1ZM97.3,770.47h1V774.56h-1ZM98.3,769.02h1V774.26h-1ZM99.3,768.52h1V773.76h-1ZM100.3,767.69h1V773.86h-1ZM101.3,767.19h1V773.36h-1ZM102.3,766.08h1V772.67h-1ZM103.3,764.74h1V772.04h-1ZM104.3,763.83h1V772.35h-1ZM105.3,762.84h1V771.36h-1ZM106.3,762.56h1V770.16h-1ZM107.3,761.57h1V769.17h-1ZM108.3,761.36h1V766.21h-1ZM109.3,760.37h1V765.22h-1ZM110.3,758.15h1V766.42h-1ZM111.3,757.16h1V765.43h-1ZM112.3,756.58h1V762.35h-1ZM113.3,754.52h1V761.37h-1ZM114.3,750.7h1V760.82h-1ZM115.3,749.18h1V759.3h-1ZM116.3,747.5h1V757.14h-1ZM117.3,745.98h1V755.62h-1ZM118.3,744.47h1V755.47h-1ZM119.3,742.9h1V754h-1ZM120.3,743.42h1V753.31h-1ZM121.3,741.73h1V751.72h-1ZM122.3,738.07h1V749.49h-1ZM123.3,736.43h1V747.85h-1ZM124.3,736.4h1V744.37h-1ZM125.3,734.75h1V742.72h-1ZM126.3,733.82h1V743.72h-1ZM127.3,732.22h1V742.03h-1ZM128.3,728.54h1V740.33h-1ZM129.3,726.93h1V738.73h-1ZM130.3,725.9h1V735.63h-1ZM131.3,724.3h1V734.03h-1ZM132.3,724.59h1V733.53h-1ZM133.3,722.9h1V732.01h-1ZM134.3,718.34h1V729.24h-1ZM135.3,716.54h1V727.53h-1ZM136.3,715.91h1V725.47h-1ZM137.3,714.15h1V723.71h-1ZM138.3,711.79h1V721.46h-1ZM139.3,711.48h1V719.2h-1ZM140.3,712.36h1V717.09h-1ZM141.3,711.39h1V716.12h-1ZM142.3,707.46h1V718.91h-1ZM143.3,705.06h1V732.65h-1Z" fill="#b3b3b3"/>
<path d="M151.8,715.23h1V721.43h-1ZM152.8,715.53h1V721.83h-1ZM153.8,717.82h1V722.75h-1ZM154.8,718.16h1V723.1h-1ZM155.8,716.72h1V724.96h-1ZM156.8,717.07h1V725.3h-1ZM157.8,719.73h1V725.61h-1ZM158.8,719.57h1V726.46h-1ZM159.8,717.84h1V726.13h-1ZM160.8,719.03h1V727.32h-1ZM161.8,720.01h1V730.15h-1ZM162.8,721.2h1V731.34h-1ZM163.8,723.13h1V730.45h-1ZM164.8,724.28h1V731.69h-1ZM165.8,725.92h1V735.51h-1ZM166.8,727.17h1V736.78h-1ZM167.8,729.7h1V735.95h-1ZM168.8,730.96h1V737.21h-1ZM169.8,730.24h1V740.43h-1ZM170.8,731.61h1V741.21h-1ZM171.8,733.99h1V741.48h-1ZM172.8,734.99h1V742.48h-1ZM173.8,734.45h1V741.42h-1ZM174.8,735.46h1V742.41h-1ZM175.8,738.38h1V744.57h-1ZM176.8,739.37h1V745.55h-1ZM177.8,738.38h1V748.18h-1ZM178.8,739.37h1V749.17h-1ZM179.8,742.16h1V749.72h-1ZM180.8,743.14h1V750.7h-1ZM181.8,742.37h1V751.86h-1ZM182.8,743.02h1V753.26h-1ZM183.8,744h1V754.94h-1ZM184.8,745.35h1V756.28h-1ZM185.8,747.93h1V755.95h-1ZM186.8,749.28h1V757.3h-1ZM187.8,750.94h1V760.53h-1ZM188.8,752.29h1V761.87h-1ZM189.8,752.82h1V760.57h-1ZM190.8,754.28h1V761.58h-1ZM191.8,756.31h1V763.04h-1ZM192.8,757.47h1V764.2h-1ZM193.8,757.29h1V765.11h-1ZM194.8,758.45h1V766.27h-1ZM195.8,759.42h1V767.55h-1ZM196.8,760.58h1V768.71h-1ZM197.8,763.28h1V769.49h-1ZM198.8,764.1h1V769.34h-1ZM199.8,765.86h1V769.63h-1ZM200.8,766.2h1V769.96h-1ZM201.8,765.7h1V769.94h-1ZM202.8,766.03h1V770.27h-1ZM203.8,765.88h1V770.09h-1ZM204.8,766.25h1V770.38h-1ZM205.8,766.2h1V770.45h-1ZM206.8,766.2h1V770.45h-1ZM207.8,767.75h1V772.16h-1ZM208.8,767.75h1V772.16h-1ZM209.8,766.01h1V771.92h-1ZM210.8,766.01h1V771.92h-1ZM211.8,768.39h1V770.74h-1ZM212.8,768.39h1V770.74h-1ZM213.8,768.02h1V771.78h-1ZM214.8,768.02h1V771.78h-1ZM215.8,766.98h1V773.07h-1ZM216.8,766.98h1V773.07h-1Z" fill="#b3b3b3"/>
<path d="M311.3,321.27h1V331.54h-1ZM312.3,321.25h1V331.59h-1ZM313.3,321.81h1V332.6h-1ZM314.3,321.78h1V332.65h-1ZM315.3,321.07h1V332.41h-1ZM316.3,321.04h1V332.46h-1ZM317.3,321.74h1V332.12h-1ZM318.3,321.71h1V332.17h-1ZM319.3,321.08h1V331.65h-1ZM320.3,321.06h1V331.7h-1ZM321.3,320.33h1V331.32h-1ZM322.3,320.3h1V331.37h-1ZM323.3,320.31h1V332.65h-1ZM324.3,320.28h1V332.7h-1ZM325.3,320.62h1V331.6h-1ZM326.3,320.6h1V331.66h-1ZM327.3,320.23h1V333.06h-1ZM328.3,320.2h1V333.12h-1ZM329.3,321.75h1V332.83h-1ZM330.3,321.76h1V332.8h-1ZM331.3,320.61h1V331.89h-1ZM332.3,320.63h1V331.84h-1ZM333.3,320.68h1V332.23h-1ZM334.3,320.71h1V332.18h-1ZM335.3,320.46h1V332.1h-1ZM336.3,320.49h1V332.05h-1ZM337.3,320.72h1V333.03h-1ZM338.3,320.75h1V332.98h-1ZM339.3,322.19h1V332.1h-1ZM340.3,322.22h1V332.05h-1ZM341.3,320.78h1V332.84h-1ZM342.3,320.81h1V332.79h-1ZM343.3,320.96h1V331.52h-1ZM344.3,320.99h1V331.47h-1ZM345.3,320.4h1V331.47h-1ZM346.3,320.42h1V331.42h-1ZM347.3,321.39h1V331.62h-1ZM348.3,321.42h1V331.57h-1ZM349.3,320.9h1V331.52h-1ZM350.3,320.85h1V331.53h-1ZM351.3,320.39h1V331.06h-1ZM352.3,320.32h1V331.08h-1ZM353.3,320.42h1V331.38h-1ZM354.3,320.35h1V331.4h-1ZM355.3,320.19h1V330.66h-1ZM356.3,320.12h1V330.68h-1ZM357.3,320.58h1V331.12h-1ZM358.3,320.51h1V331.14h-1ZM359.3,321h1V331.75h-1ZM360.3,320.93h1V331.77h-1ZM361.3,321.2h1V332.05h-1ZM362.3,321.13h1V332.07h-1ZM363.3,320.99h1V332.53h-1ZM364.3,320.92h1V332.55h-1ZM365.3,320.2h1V331.47h-1ZM366.3,320.13h1V331.49h-1ZM367.3,321.26h1V331.15h-1ZM368.3,321.19h1V331.17h-1ZM369.3,320.6h1V332.18h-1ZM370.3,320.53h1V332.2h-1ZM371.3,319.1h1V332.61h-1ZM372.3,317.49h1V332.63h-1ZM373.3,317.18h1V332.23h-1ZM374.3,321.58h1V332.25h-1Z" fill="#b3b3b3"/>
<path d="M385.7,322.45h1V334.07h-1ZM386.7,322.41h1V333.97h-1ZM387.7,321.18h1V333.29h-1ZM388.7,321.13h1V333.19h-1ZM389.7,321.82h1V333.71h-1ZM390.7,321.78h1V333.6h-1ZM391.7,322.34h1V333.48h-1ZM392.7,322.3h1V333.38h-1ZM393.7,321.82h1V333.41h-1ZM394.7,321.78h1V333.31h-1ZM395.7,321.93h1V332.81h-1ZM396.7,321.89h1V332.7h-1ZM397.7,320.95h1V331.28h-1ZM398.7,320.9h1V331.17h-1ZM399.7,320.67h1V331.73h-1ZM400.7,320.63h1V331.63h-1ZM401.7,320.53h1V332.47h-1ZM402.7,320.49h1V332.37h-1ZM403.7,321.36h1V331.85h-1ZM404.7,321.31h1V331.75h-1ZM405.7,321.41h1V331.75h-1ZM406.7,321.37h1V331.65h-1ZM407.7,321.05h1V330.19h-1ZM408.7,321.01h1V330.09h-1ZM409.7,321.6h1V331.5h-1ZM410.7,321.63h1V331.53h-1ZM411.7,321.06h1V331.13h-1ZM412.7,321.09h1V331.15h-1ZM413.7,321.42h1V330.24h-1ZM414.7,321.45h1V330.26h-1ZM415.7,321.63h1V330.66h-1ZM416.7,321.65h1V330.68h-1ZM417.7,320.35h1V330.74h-1ZM418.7,320.38h1V330.76h-1ZM419.7,321.71h1V330.67h-1ZM420.7,321.74h1V330.69h-1ZM421.7,321.78h1V332.26h-1ZM422.7,321.81h1V332.28h-1ZM423.7,321.34h1V331.12h-1ZM424.7,321.37h1V331.15h-1ZM425.7,321.36h1V331.77h-1ZM426.7,321.39h1V331.8h-1ZM427.7,321.99h1V331.69h-1ZM428.7,322.01h1V331.71h-1ZM429.7,321.79h1V330.65h-1ZM430.7,321.82h1V330.62h-1ZM431.7,320.85h1V330.95h-1ZM432.7,320.88h1V330.92h-1ZM433.7,322.1h1V331h-1ZM434.7,322.13h1V330.97h-1ZM435.7,321.8h1V330.36h-1ZM436.7,321.83h1V330.33h-1ZM437.7,320.84h1V330.82h-1ZM438.7,320.87h1V330.79h-1ZM439.7,322.12h1V331.61h-1ZM440.7,322.15h1V331.58h-1ZM441.7,322.18h1V330.75h-1ZM442.7,322.21h1V330.72h-1ZM443.7,321.92h1V331.05h-1ZM444.7,321.94h1V331.02h-1ZM445.7,321.87h1V330.3h-1ZM446.7,321.9h1V330.27h-1ZM447.7,322.78h1V330.41h-1Z" fill="#b3b3b3"/>
<path d="M305,513.79h1V516.76h-1ZM306,513.79h1V516.76h-1ZM307,513.21h1V516.48h-1ZM308,513.21h1V516.48h-1ZM309,513.69h1V516.78h-1ZM310,513.69h1V516.78h-1ZM311,513.47h1V516.36h-1ZM312,513.47h1V516.36h-1ZM313,513.33h1V516.77h-1ZM314,513.33h1V516.77h-1ZM315,513.33h1V516.55h-1ZM316,513.33h1V516.55h-1ZM317,513.29h1V516.51h-1ZM318,513.29h1V516.51h-1ZM319,513.77h1V516.28h-1ZM320,513.77h1V516.28h-1ZM321,513.69h1V516.51h-1ZM322,513.69h1V516.51h-1ZM323,513.73h1V516.62h-1ZM324,513.73h1V516.62h-1ZM325,513.34h1V516.74h-1ZM326,513.34h1V516.74h-1ZM327,513.49h1V516.21h-1ZM328,513.49h1V516.21h-1ZM329,513.2h1V516.5h-1ZM330,513.2h1V516.5h-1ZM331,513.47h1V516.38h-1ZM332,513.47h1V516.38h-1ZM333,513.28h1V516.41h-1ZM334,513.28h1V516.41h-1ZM335,513.39h1V516.7h-1ZM336,513.39h1V516.7h-1ZM337,513.2h1V516.65h-1ZM338,513.2h1V516.65h-1ZM339,513.7h1V516.27h-1ZM340,513.72h1V516.28h-1ZM341,513.79h1V516.67h-1ZM342,513.82h1V516.69h-1ZM343,513.83h1V516.46h-1ZM344,513.85h1V516.49h-1ZM345,513.56h1V516.57h-1ZM346,513.59h1V516.6h-1ZM347,513.99h1V516.74h-1ZM348,514.01h1V516.77h-1ZM349,513.65h1V516.69h-1ZM350,513.68h1V516.72h-1ZM351,513.65h1V516.52h-1ZM352,513.68h1V516.54h-1ZM353,513.6h1V517.04h-1ZM354,513.62h1V517.06h-1ZM355,513.76h1V517.15h-1ZM356,513.78h1V517.17h-1ZM357,513.79h1V516.8h-1ZM358,513.81h1V516.82h-1ZM359,513.99h1V516.8h-1ZM360,514.1h1V516.97h-1ZM361,514.25h1V517.69h-1ZM362,514.5h1V517.94h-1ZM363,515.06h1V518.11h-1ZM364,515.31h1V518.36h-1ZM365,515.39h1V518.69h-1ZM366,515.68h1V519.14h-1ZM367,516.34h1V519.46h-1ZM368,516.84h1V519.96h-1ZM369,517.2h1V520.16h-1ZM370,517.7h1V520.66h-1ZM371,518.21h1V521.4h-1ZM372,518.77h1V521.84h-1Z" fill="#b3b3b3"/>
<path d="M386.3,508.26h1V511.3h-1ZM387.3,508.57h1V511.66h-1ZM388.3,508.62h1V511.63h-1ZM389.3,508.94h1V511.96h-1ZM390.3,509.66h1V512.34h-1ZM391.3,509.99h1V512.66h-1ZM392.3,510.04h1V513.12h-1ZM393.3,510.35h1V513.47h-1ZM394.3,510.63h1V514.13h-1ZM395.3,511.04h1V514.54h-1ZM396.3,511.85h1V514.67h-1ZM397.3,512.26h1V515.08h-1ZM398.3,512.48h1V515.51h-1ZM399.3,512.96h1V515.85h-1ZM400.3,513.05h1V515.96h-1ZM401.3,513.08h1V515.98h-1ZM402.3,512.87h1V515.87h-1ZM403.3,512.89h1V515.89h-1ZM404.3,512.94h1V516.36h-1ZM405.3,512.97h1V516.39h-1ZM406.3,513.17h1V516h-1ZM407.3,513.19h1V516.03h-1ZM408.3,513.46h1V516.52h-1ZM409.3,513.49h1V516.54h-1ZM410.3,513.24h1V516.05h-1ZM411.3,513.26h1V516.08h-1ZM412.3,513.13h1V516.07h-1ZM413.3,513.16h1V516.1h-1ZM414.3,513.27h1V516.13h-1ZM415.3,513.3h1V516.15h-1ZM416.3,513.26h1V516.28h-1ZM417.3,513.29h1V516.3h-1ZM418.3,513.51h1V516.7h-1ZM419.3,513.54h1V516.73h-1ZM420.3,513.65h1V516.45h-1ZM421.3,513.65h1V516.45h-1ZM422.3,513.45h1V516.51h-1ZM423.3,513.45h1V516.51h-1ZM424.3,513.43h1V516.4h-1ZM425.3,513.43h1V516.4h-1ZM426.3,513.24h1V516.37h-1ZM427.3,513.24h1V516.37h-1ZM428.3,513.78h1V516.28h-1ZM429.3,513.78h1V516.28h-1ZM430.3,513.5h1V516.58h-1ZM431.3,513.5h1V516.58h-1ZM432.3,513.72h1V516.33h-1ZM433.3,513.72h1V516.33h-1ZM434.3,513.36h1V516.35h-1ZM435.3,513.36h1V516.35h-1ZM436.3,513.44h1V516.47h-1ZM437.3,513.44h1V516.47h-1ZM438.3,513.77h1V516.71h-1ZM439.3,513.77h1V516.71h-1ZM440.3,513.72h1V516.21h-1ZM441.3,513.72h1V516.21h-1ZM442.3,513.22h1V516.63h-1ZM443.3,513.22h1V516.63h-1ZM444.3,513.74h1V516.48h-1ZM445.3,513.74h1V516.48h-1ZM446.3,513.55h1V516.2h-1ZM447.3,513.55h1V516.2h-1ZM448.3,513.43h1V516.76h-1ZM449.3,513.43h1V516.76h-1ZM450.3,513.7h1V516.71h-1ZM451.3,513.7h1V516.71h-1ZM452.3,513.78h1V516.35h-1ZM453.3,513.78h1V516.35h-1ZM454.3,513.27h1V516.29h-1ZM455.3,513.27h1V516.29h-1Z" fill="#b3b3b3"/>
<path d="M313.9,716.45h1V721.31h-1ZM314.9,715.98h1V720.97h-1ZM315.9,715.91h1V720.59h-1ZM316.9,715.51h1V720.19h-1ZM317.9,714.87h1V719.82h-1ZM318.9,714.46h1V719.41h-1ZM319.9,713.9h1V718.83h-1ZM320.9,713.5h1V718.43h-1ZM321.9,712.76h1V718.21h-1ZM322.9,712.35h1V717.8h-1ZM323.9,712.12h1V717.48h-1ZM324.9,711.9h1V717.08h-1ZM325.9,712.08h1V716.38h-1ZM326.9,711.9h1V716.2h-1ZM327.9,711.3h1V715.98h-1ZM328.9,711.12h1V715.8h-1ZM329.9,711.35h1V715.97h-1ZM330.9,711.17h1V715.79h-1ZM331.9,710.57h1V715.11h-1ZM332.9,710.39h1V714.93h-1ZM333.9,710.54h1V715.16h-1ZM334.9,710.36h1V714.98h-1ZM335.9,710.07h1V714.51h-1ZM336.9,709.89h1V714.33h-1ZM337.9,709.88h1V713.98h-1ZM338.9,709.71h1V713.8h-1ZM339.9,709.36h1V714.01h-1ZM340.9,709.32h1V713.95h-1ZM341.9,709.79h1V714.05h-1ZM342.9,709.74h1V714h-1ZM343.9,709.63h1V713.81h-1ZM344.9,709.58h1V713.76h-1ZM345.9,709.02h1V713.53h-1ZM346.9,708.97h1V713.48h-1ZM347.9,709.5h1V713.8h-1ZM348.9,709.45h1V713.75h-1ZM349.9,708.87h1V713.15h-1ZM350.9,708.82h1V713.1h-1ZM351.9,708.93h1V713.57h-1ZM352.9,708.88h1V713.52h-1ZM353.9,708.76h1V713.14h-1ZM354.9,708.71h1V713.09h-1ZM355.9,708.86h1V713.57h-1ZM356.9,708.81h1V713.52h-1ZM357.9,708.41h1V712.76h-1ZM358.9,708.36h1V712.71h-1ZM359.9,708.43h1V712.99h-1ZM360.9,708.44h1V713.01h-1ZM361.9,708.73h1V712.85h-1ZM362.9,708.75h1V712.86h-1ZM363.9,708.86h1V713.31h-1ZM364.9,708.87h1V713.32h-1ZM365.9,708.65h1V712.91h-1ZM366.9,708.67h1V712.93h-1ZM367.9,709.05h1V713.03h-1ZM368.9,709.07h1V713.04h-1ZM369.9,708.97h1V712.99h-1ZM370.9,708.98h1V713.01h-1ZM371.9,707.76h1V714.21h-1ZM372.9,708.16h1V719.43h-1Z" fill="#b3b3b3"/>
<path d="M391.3,706.31h1V711.08h-1ZM392.3,706.48h1V711.28h-1ZM393.3,706.83h1V710.85h-1ZM394.3,707.01h1V711.04h-1ZM395.3,706.98h1V711.41h-1ZM396.3,707.17h1V711.6h-1ZM397.3,707.71h1V712.21h-1ZM398.3,707.9h1V712.4h-1ZM399.3,707.67h1V712.14h-1ZM400.3,707.86h1V712.33h-1ZM401.3,708.1h1V712.98h-1ZM402.3,708.28h1V713.17h-1ZM403.3,708.41h1V712.61h-1ZM404.3,708.6h1V712.8h-1ZM405.3,708.72h1V713.26h-1ZM406.3,708.91h1V713.45h-1ZM407.3,709.77h1V714.03h-1ZM408.3,709.95h1V714.21h-1ZM409.3,710.01h1V714.49h-1ZM410.3,710.19h1V714.68h-1ZM411.3,710.54h1V714.33h-1ZM412.3,710.72h1V714.54h-1ZM413.3,710.37h1V715.31h-1ZM414.3,710.63h1V715.58h-1ZM415.3,711.34h1V715.12h-1ZM416.3,711.61h1V715.38h-1ZM417.3,711.81h1V715.92h-1ZM418.3,712.07h1V716.19h-1ZM419.3,712.11h1V716.42h-1ZM420.3,712.37h1V716.68h-1ZM421.3,712.47h1V716.68h-1ZM422.3,712.74h1V716.95h-1ZM423.3,713.09h1V717.49h-1ZM424.3,713.35h1V717.75h-1ZM425.3,714.16h1V717.84h-1ZM426.3,714.42h1V718.1h-1ZM427.3,714.69h1V718.43h-1ZM428.3,714.96h1V718.7h-1ZM429.3,714.74h1V719.45h-1ZM430.3,715h1V719.72h-1ZM431.3,715.59h1V719.81h-1ZM432.3,716.01h1V720.38h-1ZM433.3,715.88h1V720.9h-1ZM434.3,716.38h1V721.4h-1ZM435.3,717.13h1V722.25h-1ZM436.3,717.62h1V722.74h-1ZM437.3,717.97h1V722.79h-1ZM438.3,718.46h1V723.28h-1ZM439.3,719.52h1V723.51h-1ZM440.3,720.01h1V724h-1ZM441.3,720.11h1V725.12h-1ZM442.3,720.61h1V725.61h-1ZM443.3,721.38h1V725.49h-1ZM444.3,721.93h1V725.92h-1ZM445.3,721.81h1V726.07h-1Z" fill="#b3b3b3"/>
<line x1="385.7" y1="698.8" x2="385.7" y2="716.4" stroke="#b3b3b3" stroke-width="1.5" />
<path d="M545.9,307.14h1V310.25h-1ZM546.9,306.95h1V310.33h-1ZM547.9,306.4h1V311.69h-1ZM548.9,306.21h1V311.77h-1ZM549.9,305.19h1V310.6h-1ZM550.9,305h1V310.68h-1ZM551.9,306.04h1V311.45h-1ZM552.9,305.84h1V311.52h-1ZM553.9,304.26h1V311.8h-1ZM554.9,304.06h1V311.88h-1ZM555.9,303.97h1V311.08h-1ZM556.9,303.85h1V311.16h-1ZM557.9,303.13h1V312.19h-1ZM558.9,303.03h1V312.27h-1ZM559.9,304.76h1V312.11h-1ZM560.9,304.66h1V312.19h-1ZM561.9,304.62h1V311.05h-1ZM562.9,304.52h1V311.12h-1ZM563.9,303h1V311.95h-1ZM564.9,302.91h1V311.8h-1ZM565.9,304.25h1V312.61h-1ZM566.9,304.16h1V312.46h-1ZM567.9,302.92h1V310.91h-1ZM568.9,302.82h1V310.77h-1ZM569.9,302.81h1V311.1h-1ZM570.9,302.81h1V310.96h-1ZM571.9,303.9h1V310.19h-1ZM572.9,304h1V310.04h-1ZM573.9,303.85h1V311.01h-1ZM574.9,303.95h1V310.86h-1ZM575.9,304.09h1V310.78h-1ZM576.9,304.19h1V310.63h-1ZM577.9,303.85h1V309.7h-1ZM578.9,303.95h1V309.83h-1ZM579.9,303.48h1V310.02h-1ZM580.9,303.57h1V310.14h-1ZM581.9,304.6h1V309.7h-1ZM582.9,304.7h1V309.82h-1ZM583.9,303.63h1V311.29h-1ZM584.9,303.77h1V311.41h-1ZM585.9,304.11h1V310.16h-1ZM586.9,304.35h1V310.28h-1ZM587.9,304.16h1V311.38h-1ZM588.9,304.41h1V311.51h-1ZM589.9,305.23h1V313.62h-1ZM590.9,305.52h1V314.89h-1ZM591.9,306.98h1V316.17h-1ZM592.9,307.32h1V317.43h-1ZM593.9,306.42h1V316.88h-1ZM594.9,306.77h1V318.01h-1ZM595.9,306.77h1V319.63h-1ZM596.9,307.11h1V320.42h-1ZM597.9,308.68h1V321.11h-1ZM598.9,309.02h1V321.9h-1ZM599.9,307.81h1V322.63h-1ZM600.9,307.54h1V323.42h-1ZM601.9,308.05h1V324.75h-1ZM602.9,307.79h1V325.75h-1ZM603.9,307.78h1V327.09h-1ZM604.9,308.79h1V328.09h-1ZM605.9,312.58h1V327.64h-1ZM606.9,316.55h1V328.64h-1ZM607.9,319.28h1V329.59h-1Z" fill="#b3b3b3"/>
<path d="M620.4,331.28h1V338.35h-1ZM621.4,331.28h1V340.2h-1ZM622.4,331.49h1V340.57h-1ZM623.4,331.49h1V341.14h-1ZM624.4,330.9h1V341.77h-1ZM625.4,330.9h1V342.34h-1ZM626.4,330.78h1V343.68h-1ZM627.4,330.78h1V344.25h-1ZM628.4,331.39h1V344.15h-1ZM629.4,332.39h1V344.72h-1ZM630.4,333.18h1V346.11h-1ZM631.4,334.18h1V346.72h-1ZM632.4,335.31h1V346.41h-1ZM633.4,336.81h1V347.01h-1ZM634.4,338.73h1V348.12h-1ZM635.4,340.36h1V349.17h-1ZM636.4,342.53h1V349.61h-1ZM637.4,344.49h1V350.71h-1ZM638.4,345.82h1V352.67h-1ZM639.4,347.77h1V353.77h-1ZM640.4,349.3h1V354.81h-1ZM641.4,350.28h1V355.71h-1ZM642.4,350.31h1V355.86h-1ZM643.4,351.29h1V356.76h-1ZM644.4,352.37h1V357.54h-1ZM645.4,353.36h1V358.44h-1ZM646.4,355.37h1V359.81h-1ZM647.4,356.73h1V361.37h-1ZM648.4,358.08h1V362.75h-1ZM649.4,359.48h1V364.38h-1ZM650.4,360.17h1V365.45h-1ZM651.4,360.87h1V366.35h-1ZM652.4,360.84h1V367.64h-1ZM653.4,361.54h1V368.54h-1ZM654.4,363.06h1V368.64h-1ZM655.4,363.76h1V369.54h-1ZM656.4,364.05h1V371.05h-1ZM657.4,364.84h1V371.85h-1ZM658.4,365.18h1V372.34h-1ZM659.4,365.98h1V373.12h-1ZM660.4,366.69h1V373.71h-1ZM661.4,367.49h1V374.49h-1ZM662.4,368.43h1V375.76h-1ZM663.4,369.23h1V376.54h-1ZM664.4,370.67h1V376.77h-1ZM665.4,371.65h1V377.47h-1ZM666.4,371.87h1V378.32h-1ZM667.4,372.86h1V379.02h-1ZM668.4,374.64h1V379.55h-1ZM669.4,375.63h1V380.25h-1ZM670.4,376.18h1V380.97h-1ZM671.4,376.81h1V381.49h-1ZM672.4,377.99h1V382.41h-1ZM673.4,378.59h1V382.91h-1ZM674.4,378.32h1V382.87h-1ZM675.4,378.92h1V383.37h-1ZM676.4,379.91h1V384.41h-1ZM677.4,380.51h1V384.91h-1ZM678.4,381.26h1V384.54h-1ZM679.4,381.7h1V384.69h-1ZM680.4,381.57h1V385.56h-1ZM681.4,382h1V385.7h-1ZM682.4,382.69h1V385.34h-1Z" fill="#b3b3b3"/>
<path d="M545.6,492h1V495.52h-1ZM546.6,492.34h1V495.92h-1ZM547.6,492.71h1V496.06h-1ZM548.6,493.08h1V496.42h-1ZM549.6,493.47h1V496.7h-1ZM550.6,493.84h1V497.07h-1ZM551.6,494.51h1V497.79h-1ZM552.6,494.88h1V498.15h-1ZM553.6,494.95h1V498.04h-1ZM554.6,495.31h1V498.41h-1ZM555.6,495.9h1V498.78h-1ZM556.6,496.27h1V499.15h-1ZM557.6,496.2h1V499.93h-1ZM558.6,496.57h1V500.3h-1ZM559.6,497.19h1V500.62h-1ZM560.6,497.55h1V500.99h-1ZM561.6,497.91h1V501.39h-1ZM562.6,498.28h1V501.76h-1ZM563.6,498.68h1V501.7h-1ZM564.6,499.05h1V502.06h-1ZM565.6,499.15h1V502.65h-1ZM566.6,499.49h1V502.98h-1ZM567.6,500.2h1V503.53h-1ZM568.6,500.54h1V503.86h-1ZM569.6,500.54h1V504.02h-1ZM570.6,500.87h1V504.35h-1ZM571.6,501.37h1V504.62h-1ZM572.6,501.71h1V504.95h-1ZM573.6,501.91h1V505.15h-1ZM574.6,502.24h1V505.48h-1ZM575.6,502.8h1V506.2h-1ZM576.6,503.13h1V506.54h-1ZM577.6,503.22h1V506.61h-1ZM578.6,503.55h1V506.94h-1ZM579.6,504.3h1V507.56h-1ZM580.6,504.64h1V507.89h-1ZM581.6,504.6h1V507.72h-1ZM582.6,504.94h1V508.06h-1ZM583.6,505.72h1V508.9h-1ZM584.6,506.05h1V509.23h-1ZM585.6,506.11h1V509.01h-1ZM586.6,506.44h1V509.35h-1ZM587.6,507.04h1V509.88h-1ZM588.6,507.37h1V510.21h-1ZM589.6,507.67h1V510.73h-1ZM590.6,508.09h1V511.22h-1ZM591.6,508.5h1V511.39h-1ZM592.6,508.95h1V511.84h-1ZM593.6,509.38h1V512.33h-1ZM594.6,509.83h1V512.78h-1ZM595.6,510.05h1V513.61h-1ZM596.6,510.5h1V514.06h-1ZM597.6,511.21h1V514.12h-1ZM598.6,511.66h1V514.57h-1ZM599.6,511.75h1V515.15h-1ZM600.6,512.2h1V515.6h-1ZM601.6,512.83h1V516.04h-1ZM602.6,513.28h1V516.49h-1ZM603.6,513.5h1V516.86h-1ZM604.6,513.95h1V517.32h-1ZM605.6,514.81h1V518.11h-1Z" fill="#b3b3b3"/>
<path d="M620,518.76h1V522.65h-1ZM621,519h1V522.92h-1ZM622,519.68h1V522.86h-1ZM623,519.94h1V523.12h-1ZM624,520.24h1V523.42h-1ZM625,520.5h1V523.68h-1ZM626,520.61h1V524.19h-1ZM627,520.86h1V524.44h-1ZM628,521.13h1V524.55h-1ZM629,521.39h1V524.81h-1ZM630,521.52h1V525.23h-1ZM631,521.76h1V525.5h-1ZM632,522.06h1V525.85h-1ZM633,522.36h1V526.15h-1ZM634,522.67h1V526.32h-1ZM635,522.97h1V526.62h-1ZM636,523.02h1V527.03h-1ZM637,523.32h1V527.33h-1ZM638,523.9h1V527.4h-1ZM639,524.2h1V527.7h-1ZM640,524.67h1V528.33h-1ZM641,524.97h1V528.63h-1ZM642,525.09h1V528.57h-1ZM643,525.39h1V528.87h-1ZM644,525.7h1V529.13h-1ZM645,525.95h1V529.47h-1ZM646,526.12h1V530.21h-1ZM647,526.62h1V530.71h-1ZM648,527.1h1V531.22h-1ZM649,527.6h1V531.72h-1ZM650,528.35h1V531.98h-1ZM651,528.85h1V532.48h-1ZM652,529.43h1V533.01h-1ZM653,529.93h1V533.51h-1ZM654,530.48h1V534.42h-1ZM655,530.96h1V534.95h-1ZM656,531.35h1V535.12h-1ZM657,531.93h1V535.7h-1ZM658,532.51h1V536.48h-1ZM659,533.09h1V537.06h-1ZM660,533.94h1V537.5h-1ZM661,534.52h1V538.08h-1ZM662,535.04h1V539.18h-1ZM663,535.62h1V539.76h-1ZM664,536.07h1V540.36h-1ZM665,536.75h1V541.16h-1ZM666,537.17h1V542.01h-1ZM667,537.92h1V542.75h-1ZM668,538.84h1V543.48h-1ZM669,539.58h1V544.23h-1ZM670,540.58h1V544.49h-1ZM671,541.33h1V545.24h-1ZM672,541.92h1V546.51h-1ZM673,542.63h1V547.61h-1ZM674,543.17h1V548.32h-1ZM675,544.18h1V549.33h-1ZM676,545.6h1V550.22h-1ZM677,546.62h1V551.23h-1ZM678,547.71h1V552.31h-1ZM679,548.72h1V553.33h-1ZM680,549.68h1V554.26h-1ZM681,550.85h1V555.12h-1ZM682,551.8h1V555.66h-1Z" fill="#b3b3b3"/>
<path d="M546.9,701.47h1V707.56h-1ZM547.9,701.34h1V707.86h-1ZM548.9,701.68h1V707.77h-1ZM549.9,701.55h1V707.58h-1ZM550.9,700.67h1V707.17h-1ZM551.9,700.54h1V706.98h-1ZM552.9,700.61h1V708h-1ZM553.9,700.48h1V707.81h-1ZM554.9,701.18h1V707.56h-1ZM555.9,701.05h1V707.37h-1ZM556.9,699.43h1V707.01h-1ZM557.9,697.96h1V706.72h-1ZM558.9,696.4h1V705.65h-1ZM559.9,694.93h1V704.98h-1ZM560.9,694.79h1V704.04h-1ZM561.9,694.03h1V703.38h-1ZM562.9,693.64h1V703.02h-1ZM563.9,692.88h1V702.35h-1ZM564.9,691.66h1V702.21h-1ZM565.9,692.13h1V702.01h-1ZM566.9,692.37h1V702.19h-1ZM567.9,693.37h1V702.19h-1ZM568.9,695.21h1V701.23h-1ZM569.9,696.21h1V701.23h-1ZM570.9,696.44h1V701.02h-1ZM571.9,695.95h1V701.02h-1ZM572.9,695.77h1V701.52h-1ZM573.9,695.28h1V701.52h-1ZM574.9,693.79h1V701.82h-1ZM575.9,693.3h1V701.75h-1ZM576.9,692.95h1V700.67h-1ZM577.9,692.52h1V700.54h-1ZM578.9,693.08h1V700.21h-1ZM579.9,693.16h1V700.08h-1ZM580.9,693.36h1V700.28h-1ZM581.9,693.44h1V700.15h-1ZM582.9,693.23h1V701.19h-1ZM583.9,693.31h1V701.06h-1ZM584.9,693.31h1V700.41h-1ZM585.9,693.26h1V700.4h-1ZM586.9,692.69h1V699.4h-1ZM587.9,692.57h1V699.46h-1ZM588.9,691.99h1V699.75h-1ZM589.9,691.86h1V699.81h-1ZM590.9,692.66h1V700.32h-1ZM591.9,692.54h1V700.38h-1ZM592.9,692.24h1V701.18h-1ZM593.9,692.11h1V701.24h-1ZM594.9,691.38h1V700.23h-1ZM595.9,691.78h1V700.48h-1ZM596.9,693.54h1V700.58h-1ZM597.9,694.48h1V701h-1ZM598.9,694.37h1V701.96h-1ZM599.9,695.3h1V702.39h-1ZM600.9,696.4h1V702.82h-1ZM601.9,697.34h1V703.24h-1ZM602.9,698.46h1V704.03h-1ZM603.9,698.77h1V704.53h-1ZM604.9,699.67h1V704.43h-1ZM605.9,699.99h1V704.93h-1ZM606.9,700.3h1V705.86h-1Z" fill="#b3b3b3"/>
<path d="M620.8,710.64h1V717.83h-1ZM621.8,711.46h1V719.34h-1ZM622.8,712.78h1V719.41h-1ZM623.8,714.92h1V719.59h-1ZM624.8,714.32h1V720h-1ZM625.8,713.82h1V719.5h-1ZM626.8,714.41h1V719.2h-1ZM627.8,713.99h1V718.63h-1ZM628.8,713.13h1V717.47h-1ZM629.8,712.9h1V717.23h-1ZM630.8,712.11h1V717.52h-1ZM631.8,711.9h1V717.26h-1ZM632.8,711.7h1V719.54h-1ZM633.8,712.88h1V722.3h-1ZM634.8,714.93h1V724.43h-1ZM635.8,716.65h1V726.82h-1ZM636.8,719.13h1V729.63h-1ZM637.8,721.37h1V731.87h-1ZM638.8,722.64h1V734.34h-1ZM639.8,724.42h1V737.13h-1ZM640.8,726.42h1V739.68h-1ZM641.8,729.1h1V742.35h-1ZM642.8,732.58h1V744.32h-1ZM643.8,735.26h1V746.41h-1ZM644.8,737.16h1V749.56h-1ZM645.8,739.89h1V751.6h-1ZM646.8,742.3h1V752.89h-1ZM647.8,744.3h1V754.89h-1ZM648.8,747.6h1V756.32h-1ZM649.8,750.92h1V757h-1ZM650.8,751.68h1V756.68h-1ZM651.8,751.36h1V756.48h-1ZM652.8,751.53h1V756.27h-1ZM653.8,751.34h1V755.93h-1ZM654.8,751.5h1V756.41h-1ZM655.8,752.22h1V757.92h-1ZM656.8,752.63h1V759.22h-1ZM657.8,753.85h1V760.24h-1ZM658.8,755.11h1V761.08h-1ZM659.8,755.41h1V761.02h-1ZM660.8,756.55h1V760.89h-1ZM661.8,756.67h1V761.01h-1ZM662.8,755.49h1V761.68h-1ZM663.8,755.95h1V762.98h-1ZM664.8,757.86h1V763.33h-1ZM665.8,758.74h1V764.21h-1ZM666.8,760.31h1V764.39h-1ZM667.8,759.37h1V764.28h-1ZM668.8,757.97h1V763.12h-1ZM669.8,757.74h1V761.99h-1ZM670.8,757.6h1V763.19h-1ZM671.8,758.48h1V764.07h-1ZM672.8,759.5h1V765.95h-1ZM673.8,760.82h1V766.39h-1ZM674.8,761.56h1V766.4h-1ZM675.8,760.91h1V766.04h-1ZM676.8,760.44h1V764.73h-1ZM677.8,760.14h1V764.03h-1ZM678.8,759.22h1V765.71h-1ZM679.8,759.93h1V768.36h-1ZM680.8,762.13h1V769.96h-1ZM681.8,764.92h1V769.52h-1Z" fill="#b3b3b3"/>
<line x1="73.42" y1="288.9" x2="73.42" y2="297.3" stroke="#000" stroke-width="1.3" />
<line x1="67.62" y1="288.9" x2="79.22" y2="288.9" stroke="#000" stroke-width="1.5" />
<line x1="67.62" y1="297.3" x2="79.22" y2="297.3" stroke="#000" stroke-width="1.5" />
<circle cx="73.42" cy="293.1" r="3.85" fill="#000"/>
<line x1="86.98" y1="297.6" x2="86.98" y2="305.8" stroke="#000" stroke-width="1.3" />
<line x1="81.18" y1="297.6" x2="92.78" y2="297.6" stroke="#000" stroke-width="1.5" />
<line x1="81.18" y1="305.8" x2="92.78" y2="305.8" stroke="#000" stroke-width="1.5" />
<circle cx="86.98" cy="301.7" r="3.85" fill="#000"/>
<line x1="100.54" y1="307.5" x2="100.54" y2="313.7" stroke="#000" stroke-width="1.3" />
<line x1="94.74" y1="307.5" x2="106.34" y2="307.5" stroke="#000" stroke-width="1.5" />
<line x1="94.74" y1="313.7" x2="106.34" y2="313.7" stroke="#000" stroke-width="1.5" />
<circle cx="100.54" cy="310.6" r="3.85" fill="#000"/>
<line x1="114.1" y1="313.2" x2="114.1" y2="318.8" stroke="#000" stroke-width="1.3" />
<line x1="108.3" y1="313.2" x2="119.9" y2="313.2" stroke="#000" stroke-width="1.5" />
<line x1="108.3" y1="318.8" x2="119.9" y2="318.8" stroke="#000" stroke-width="1.5" />
<circle cx="114.1" cy="316" r="3.85" fill="#000"/>
<line x1="127.66" y1="319" x2="127.66" y2="325.6" stroke="#000" stroke-width="1.3" />
<line x1="121.86" y1="319" x2="133.46" y2="319" stroke="#000" stroke-width="1.5" />
<line x1="121.86" y1="325.6" x2="133.46" y2="325.6" stroke="#000" stroke-width="1.5" />
<circle cx="127.66" cy="322.3" r="3.85" fill="#000"/>
<line x1="141.22" y1="321.5" x2="141.22" y2="329.9" stroke="#000" stroke-width="1.3" />
<line x1="135.42" y1="321.5" x2="147.02" y2="321.5" stroke="#000" stroke-width="1.5" />
<line x1="135.42" y1="329.9" x2="147.02" y2="329.9" stroke="#000" stroke-width="1.5" />
<circle cx="141.22" cy="325.7" r="3.85" fill="#000"/>
<line x1="154.78" y1="322.2" x2="154.78" y2="329.2" stroke="#000" stroke-width="1.3" />
<line x1="148.98" y1="322.2" x2="160.58" y2="322.2" stroke="#000" stroke-width="1.5" />
<line x1="148.98" y1="329.2" x2="160.58" y2="329.2" stroke="#000" stroke-width="1.5" />
<circle cx="154.78" cy="325.7" r="3.85" fill="#000"/>
<line x1="168.34" y1="316.2" x2="168.34" y2="322.2" stroke="#000" stroke-width="1.3" />
<line x1="162.54" y1="316.2" x2="174.14" y2="316.2" stroke="#000" stroke-width="1.5" />
<line x1="162.54" y1="322.2" x2="174.14" y2="322.2" stroke="#000" stroke-width="1.5" />
<circle cx="168.34" cy="319.2" r="3.85" fill="#000"/>
<line x1="181.9" y1="310.1" x2="181.9" y2="316.7" stroke="#000" stroke-width="1.3" />
<line x1="176.1" y1="310.1" x2="187.7" y2="310.1" stroke="#000" stroke-width="1.5" />
<line x1="176.1" y1="316.7" x2="187.7" y2="316.7" stroke="#000" stroke-width="1.5" />
<circle cx="181.9" cy="313.4" r="3.85" fill="#000"/>
<line x1="195.46" y1="303.3" x2="195.46" y2="310.5" stroke="#000" stroke-width="1.3" />
<line x1="189.66" y1="303.3" x2="201.26" y2="303.3" stroke="#000" stroke-width="1.5" />
<line x1="189.66" y1="310.5" x2="201.26" y2="310.5" stroke="#000" stroke-width="1.5" />
<circle cx="195.46" cy="306.9" r="3.85" fill="#000"/>
<line x1="209.02" y1="297.8" x2="209.02" y2="302.8" stroke="#000" stroke-width="1.3" />
<line x1="203.22" y1="297.8" x2="214.82" y2="297.8" stroke="#000" stroke-width="1.5" />
<line x1="203.22" y1="302.8" x2="214.82" y2="302.8" stroke="#000" stroke-width="1.5" />
<circle cx="209.02" cy="300.3" r="3.85" fill="#000"/>
<line x1="222.58" y1="289.8" x2="222.58" y2="294.2" stroke="#000" stroke-width="1.3" />
<line x1="216.78" y1="289.8" x2="228.38" y2="289.8" stroke="#000" stroke-width="1.5" />
<line x1="216.78" y1="294.2" x2="228.38" y2="294.2" stroke="#000" stroke-width="1.5" />
<circle cx="222.58" cy="292" r="3.85" fill="#000"/>
<line x1="73.42" y1="486.9" x2="73.42" y2="491.9" stroke="#000" stroke-width="1.3" />
<line x1="67.62" y1="486.9" x2="79.22" y2="486.9" stroke="#000" stroke-width="1.5" />
<line x1="67.62" y1="491.9" x2="79.22" y2="491.9" stroke="#000" stroke-width="1.5" />
<circle cx="73.42" cy="489.4" r="3.85" fill="#000"/>
<line x1="86.98" y1="495.7" x2="86.98" y2="500.7" stroke="#000" stroke-width="1.3" />
<line x1="81.18" y1="495.7" x2="92.78" y2="495.7" stroke="#000" stroke-width="1.5" />
<line x1="81.18" y1="500.7" x2="92.78" y2="500.7" stroke="#000" stroke-width="1.5" />
<circle cx="86.98" cy="498.2" r="3.85" fill="#000"/>
<line x1="100.54" y1="501.4" x2="100.54" y2="506.4" stroke="#000" stroke-width="1.3" />
<line x1="94.74" y1="501.4" x2="106.34" y2="501.4" stroke="#000" stroke-width="1.5" />
<line x1="94.74" y1="506.4" x2="106.34" y2="506.4" stroke="#000" stroke-width="1.5" />
<circle cx="100.54" cy="503.9" r="3.85" fill="#000"/>
<line x1="114.1" y1="507.7" x2="114.1" y2="512.7" stroke="#000" stroke-width="1.3" />
<line x1="108.3" y1="507.7" x2="119.9" y2="507.7" stroke="#000" stroke-width="1.5" />
<line x1="108.3" y1="512.7" x2="119.9" y2="512.7" stroke="#000" stroke-width="1.5" />
<circle cx="114.1" cy="510.2" r="3.85" fill="#000"/>
<line x1="127.66" y1="510.8" x2="127.66" y2="515.8" stroke="#000" stroke-width="1.3" />
<line x1="121.86" y1="510.8" x2="133.46" y2="510.8" stroke="#000" stroke-width="1.5" />
<line x1="121.86" y1="515.8" x2="133.46" y2="515.8" stroke="#000" stroke-width="1.5" />
<circle cx="127.66" cy="513.3" r="3.85" fill="#000"/>
<line x1="141.22" y1="513.7" x2="141.22" y2="518.7" stroke="#000" stroke-width="1.3" />
<line x1="135.42" y1="513.7" x2="147.02" y2="513.7" stroke="#000" stroke-width="1.5" />
<line x1="135.42" y1="518.7" x2="147.02" y2="518.7" stroke="#000" stroke-width="1.5" />
<circle cx="141.22" cy="516.2" r="3.85" fill="#000"/>
<line x1="154.78" y1="511.5" x2="154.78" y2="516.5" stroke="#000" stroke-width="1.3" />
<line x1="148.98" y1="511.5" x2="160.58" y2="511.5" stroke="#000" stroke-width="1.5" />
<line x1="148.98" y1="516.5" x2="160.58" y2="516.5" stroke="#000" stroke-width="1.5" />
<circle cx="154.78" cy="514" r="3.85" fill="#000"/>
<line x1="168.34" y1="509.1" x2="168.34" y2="514.1" stroke="#000" stroke-width="1.3" />
<line x1="162.54" y1="509.1" x2="174.14" y2="509.1" stroke="#000" stroke-width="1.5" />
<line x1="162.54" y1="514.1" x2="174.14" y2="514.1" stroke="#000" stroke-width="1.5" />
<circle cx="168.34" cy="511.6" r="3.85" fill="#000"/>
<line x1="181.9" y1="506.2" x2="181.9" y2="511.2" stroke="#000" stroke-width="1.3" />
<line x1="176.1" y1="506.2" x2="187.7" y2="506.2" stroke="#000" stroke-width="1.5" />
<line x1="176.1" y1="511.2" x2="187.7" y2="511.2" stroke="#000" stroke-width="1.5" />
<circle cx="181.9" cy="508.7" r="3.85" fill="#000"/>
<line x1="195.46" y1="498.4" x2="195.46" y2="503.4" stroke="#000" stroke-width="1.3" />
<line x1="189.66" y1="498.4" x2="201.26" y2="498.4" stroke="#000" stroke-width="1.5" />
<line x1="189.66" y1="503.4" x2="201.26" y2="503.4" stroke="#000" stroke-width="1.5" />
<circle cx="195.46" cy="500.9" r="3.85" fill="#000"/>
<line x1="209.02" y1="492.2" x2="209.02" y2="497.2" stroke="#000" stroke-width="1.3" />
<line x1="203.22" y1="492.2" x2="214.82" y2="492.2" stroke="#000" stroke-width="1.5" />
<line x1="203.22" y1="497.2" x2="214.82" y2="497.2" stroke="#000" stroke-width="1.5" />
<circle cx="209.02" cy="494.7" r="3.85" fill="#000"/>
<line x1="222.58" y1="482.6" x2="222.58" y2="487.6" stroke="#000" stroke-width="1.3" />
<line x1="216.78" y1="482.6" x2="228.38" y2="482.6" stroke="#000" stroke-width="1.5" />
<line x1="216.78" y1="487.6" x2="228.38" y2="487.6" stroke="#000" stroke-width="1.5" />
<circle cx="222.58" cy="485.1" r="3.85" fill="#000"/>
<line x1="73.42" y1="697.5" x2="73.42" y2="715.1" stroke="#000" stroke-width="1.3" />
<line x1="67.62" y1="697.5" x2="79.22" y2="697.5" stroke="#000" stroke-width="1.5" />
<line x1="67.62" y1="715.1" x2="79.22" y2="715.1" stroke="#000" stroke-width="1.5" />
<circle cx="73.42" cy="706.3" r="3.85" fill="#000"/>
<line x1="86.98" y1="699.2" x2="86.98" y2="712.2" stroke="#000" stroke-width="1.3" />
<line x1="81.18" y1="699.2" x2="92.78" y2="699.2" stroke="#000" stroke-width="1.5" />
<line x1="81.18" y1="712.2" x2="92.78" y2="712.2" stroke="#000" stroke-width="1.5" />
<circle cx="86.98" cy="705.7" r="3.85" fill="#000"/>
<line x1="100.54" y1="706" x2="100.54" y2="718" stroke="#000" stroke-width="1.3" />
<line x1="94.74" y1="706" x2="106.34" y2="706" stroke="#000" stroke-width="1.5" />
<line x1="94.74" y1="718" x2="106.34" y2="718" stroke="#000" stroke-width="1.5" />
<circle cx="100.54" cy="712" r="3.85" fill="#000"/>
<line x1="114.1" y1="704.3" x2="114.1" y2="718.5" stroke="#000" stroke-width="1.3" />
<line x1="108.3" y1="704.3" x2="119.9" y2="704.3" stroke="#000" stroke-width="1.5" />
<line x1="108.3" y1="718.5" x2="119.9" y2="718.5" stroke="#000" stroke-width="1.5" />
<circle cx="114.1" cy="711.4" r="3.85" fill="#000"/>
<line x1="127.66" y1="704.6" x2="127.66" y2="720.6" stroke="#000" stroke-width="1.3" />
<line x1="121.86" y1="704.6" x2="133.46" y2="704.6" stroke="#000" stroke-width="1.5" />
<line x1="121.86" y1="720.6" x2="133.46" y2="720.6" stroke="#000" stroke-width="1.5" />
<circle cx="127.66" cy="712.6" r="3.85" fill="#000"/>
<line x1="141.22" y1="692.6" x2="141.22" y2="723.8" stroke="#000" stroke-width="1.3" />
<line x1="135.42" y1="692.6" x2="147.02" y2="692.6" stroke="#000" stroke-width="1.5" />
<line x1="135.42" y1="723.8" x2="147.02" y2="723.8" stroke="#000" stroke-width="1.5" />
<circle cx="141.22" cy="708.2" r="3.85" fill="#000"/>
<line x1="154.78" y1="685.8" x2="154.78" y2="717.4" stroke="#000" stroke-width="1.3" />
<line x1="148.98" y1="685.8" x2="160.58" y2="685.8" stroke="#000" stroke-width="1.5" />
<line x1="148.98" y1="717.4" x2="160.58" y2="717.4" stroke="#000" stroke-width="1.5" />
<circle cx="154.78" cy="701.6" r="3.85" fill="#000"/>
<line x1="168.34" y1="704.7" x2="168.34" y2="716.7" stroke="#000" stroke-width="1.3" />
<line x1="162.54" y1="704.7" x2="174.14" y2="704.7" stroke="#000" stroke-width="1.5" />
<line x1="162.54" y1="716.7" x2="174.14" y2="716.7" stroke="#000" stroke-width="1.5" />
<circle cx="168.34" cy="710.7" r="3.85" fill="#000"/>
<line x1="181.9" y1="699.3" x2="181.9" y2="714.5" stroke="#000" stroke-width="1.3" />
<line x1="176.1" y1="699.3" x2="187.7" y2="699.3" stroke="#000" stroke-width="1.5" />
<line x1="176.1" y1="714.5" x2="187.7" y2="714.5" stroke="#000" stroke-width="1.5" />
<circle cx="181.9" cy="706.9" r="3.85" fill="#000"/>
<line x1="195.46" y1="701.1" x2="195.46" y2="713.3" stroke="#000" stroke-width="1.3" />
<line x1="189.66" y1="701.1" x2="201.26" y2="701.1" stroke="#000" stroke-width="1.5" />
<line x1="189.66" y1="713.3" x2="201.26" y2="713.3" stroke="#000" stroke-width="1.5" />
<circle cx="195.46" cy="707.2" r="3.85" fill="#000"/>
<line x1="209.02" y1="699.9" x2="209.02" y2="712.9" stroke="#000" stroke-width="1.3" />
<line x1="203.22" y1="699.9" x2="214.82" y2="699.9" stroke="#000" stroke-width="1.5" />
<line x1="203.22" y1="712.9" x2="214.82" y2="712.9" stroke="#000" stroke-width="1.5" />
<circle cx="209.02" cy="706.4" r="3.85" fill="#000"/>
<line x1="222.58" y1="696.4" x2="222.58" y2="712.8" stroke="#000" stroke-width="1.3" />
<line x1="216.78" y1="696.4" x2="228.38" y2="696.4" stroke="#000" stroke-width="1.5" />
<line x1="216.78" y1="712.8" x2="228.38" y2="712.8" stroke="#000" stroke-width="1.5" />
<circle cx="222.58" cy="704.6" r="3.85" fill="#000"/>
<line x1="305.32" y1="317.9" x2="305.32" y2="323.5" stroke="#000" stroke-width="1.3" />
<line x1="299.52" y1="317.9" x2="311.12" y2="317.9" stroke="#000" stroke-width="1.5" />
<line x1="299.52" y1="323.5" x2="311.12" y2="323.5" stroke="#000" stroke-width="1.5" />
<circle cx="305.32" cy="320.7" r="3.85" fill="#000"/>
<line x1="318.88" y1="321.1" x2="318.88" y2="326.7" stroke="#000" stroke-width="1.3" />
<line x1="313.08" y1="321.1" x2="324.68" y2="321.1" stroke="#000" stroke-width="1.5" />
<line x1="313.08" y1="326.7" x2="324.68" y2="326.7" stroke="#000" stroke-width="1.5" />
<circle cx="318.88" cy="323.9" r="3.85" fill="#000"/>
<line x1="332.44" y1="319.2" x2="332.44" y2="324.8" stroke="#000" stroke-width="1.3" />
<line x1="326.64" y1="319.2" x2="338.24" y2="319.2" stroke="#000" stroke-width="1.5" />
<line x1="326.64" y1="324.8" x2="338.24" y2="324.8" stroke="#000" stroke-width="1.5" />
<circle cx="332.44" cy="322" r="3.85" fill="#000"/>
<line x1="346" y1="321.7" x2="346" y2="327.3" stroke="#000" stroke-width="1.3" />
<line x1="340.2" y1="321.7" x2="351.8" y2="321.7" stroke="#000" stroke-width="1.5" />
<line x1="340.2" y1="327.3" x2="351.8" y2="327.3" stroke="#000" stroke-width="1.5" />
<circle cx="346" cy="324.5" r="3.85" fill="#000"/>
<line x1="359.56" y1="319.8" x2="359.56" y2="325.4" stroke="#000" stroke-width="1.3" />
<line x1="353.76" y1="319.8" x2="365.36" y2="319.8" stroke="#000" stroke-width="1.5" />
<line x1="353.76" y1="325.4" x2="365.36" y2="325.4" stroke="#000" stroke-width="1.5" />
<circle cx="359.56" cy="322.6" r="3.85" fill="#000"/>
<line x1="373.12" y1="322.7" x2="373.12" y2="328.3" stroke="#000" stroke-width="1.3" />
<line x1="367.32" y1="322.7" x2="378.92" y2="322.7" stroke="#000" stroke-width="1.5" />
<line x1="367.32" y1="328.3" x2="378.92" y2="328.3" stroke="#000" stroke-width="1.5" />
<circle cx="373.12" cy="325.5" r="3.85" fill="#000"/>
<line x1="386.68" y1="321.3" x2="386.68" y2="326.9" stroke="#000" stroke-width="1.3" />
<line x1="380.88" y1="321.3" x2="392.48" y2="321.3" stroke="#000" stroke-width="1.5" />
<line x1="380.88" y1="326.9" x2="392.48" y2="326.9" stroke="#000" stroke-width="1.5" />
<circle cx="386.68" cy="324.1" r="3.85" fill="#000"/>
<line x1="400.24" y1="318.5" x2="400.24" y2="324.1" stroke="#000" stroke-width="1.3" />
<line x1="394.44" y1="318.5" x2="406.04" y2="318.5" stroke="#000" stroke-width="1.5" />
<line x1="394.44" y1="324.1" x2="406.04" y2="324.1" stroke="#000" stroke-width="1.5" />
<circle cx="400.24" cy="321.3" r="3.85" fill="#000"/>
<line x1="413.8" y1="321.3" x2="413.8" y2="326.9" stroke="#000" stroke-width="1.3" />
<line x1="408" y1="321.3" x2="419.6" y2="321.3" stroke="#000" stroke-width="1.5" />
<line x1="408" y1="326.9" x2="419.6" y2="326.9" stroke="#000" stroke-width="1.5" />
<circle cx="413.8" cy="324.1" r="3.85" fill="#000"/>
<line x1="427.36" y1="318.5" x2="427.36" y2="324.1" stroke="#000" stroke-width="1.3" />
<line x1="421.56" y1="318.5" x2="433.16" y2="318.5" stroke="#000" stroke-width="1.5" />
<line x1="421.56" y1="324.1" x2="433.16" y2="324.1" stroke="#000" stroke-width="1.5" />
<circle cx="427.36" cy="321.3" r="3.85" fill="#000"/>
<line x1="440.92" y1="320.8" x2="440.92" y2="326.4" stroke="#000" stroke-width="1.3" />
<line x1="435.12" y1="320.8" x2="446.72" y2="320.8" stroke="#000" stroke-width="1.5" />
<line x1="435.12" y1="326.4" x2="446.72" y2="326.4" stroke="#000" stroke-width="1.5" />
<circle cx="440.92" cy="323.6" r="3.85" fill="#000"/>
<line x1="454.48" y1="318.3" x2="454.48" y2="323.9" stroke="#000" stroke-width="1.3" />
<line x1="448.68" y1="318.3" x2="460.28" y2="318.3" stroke="#000" stroke-width="1.5" />
<line x1="448.68" y1="323.9" x2="460.28" y2="323.9" stroke="#000" stroke-width="1.5" />
<circle cx="454.48" cy="321.1" r="3.85" fill="#000"/>
<line x1="305.32" y1="513.2" x2="305.32" y2="516" stroke="#000" stroke-width="1.3" />
<line x1="299.52" y1="513.2" x2="311.12" y2="513.2" stroke="#000" stroke-width="1.5" />
<line x1="299.52" y1="516" x2="311.12" y2="516" stroke="#000" stroke-width="1.5" />
<circle cx="305.32" cy="514.6" r="3.85" fill="#000"/>
<line x1="318.88" y1="513.2" x2="318.88" y2="516" stroke="#000" stroke-width="1.3" />
<line x1="313.08" y1="513.2" x2="324.68" y2="513.2" stroke="#000" stroke-width="1.5" />
<line x1="313.08" y1="516" x2="324.68" y2="516" stroke="#000" stroke-width="1.5" />
<circle cx="318.88" cy="514.6" r="3.85" fill="#000"/>
<line x1="332.44" y1="513.6" x2="332.44" y2="516.4" stroke="#000" stroke-width="1.3" />
<line x1="326.64" y1="513.6" x2="338.24" y2="513.6" stroke="#000" stroke-width="1.5" />
<line x1="326.64" y1="516.4" x2="338.24" y2="516.4" stroke="#000" stroke-width="1.5" />
<circle cx="332.44" cy="515" r="3.85" fill="#000"/>
<line x1="346" y1="513.4" x2="346" y2="516.2" stroke="#000" stroke-width="1.3" />
<line x1="340.2" y1="513.4" x2="351.8" y2="513.4" stroke="#000" stroke-width="1.5" />
<line x1="340.2" y1="516.2" x2="351.8" y2="516.2" stroke="#000" stroke-width="1.5" />
<circle cx="346" cy="514.8" r="3.85" fill="#000"/>
<line x1="359.56" y1="513.9" x2="359.56" y2="516.7" stroke="#000" stroke-width="1.3" />
<line x1="353.76" y1="513.9" x2="365.36" y2="513.9" stroke="#000" stroke-width="1.5" />
<line x1="353.76" y1="516.7" x2="365.36" y2="516.7" stroke="#000" stroke-width="1.5" />
<circle cx="359.56" cy="515.3" r="3.85" fill="#000"/>
<line x1="373.12" y1="513.3" x2="373.12" y2="516.1" stroke="#000" stroke-width="1.3" />
<line x1="367.32" y1="513.3" x2="378.92" y2="513.3" stroke="#000" stroke-width="1.5" />
<line x1="367.32" y1="516.1" x2="378.92" y2="516.1" stroke="#000" stroke-width="1.5" />
<circle cx="373.12" cy="514.7" r="3.85" fill="#000"/>
<line x1="386.68" y1="513.6" x2="386.68" y2="516.4" stroke="#000" stroke-width="1.3" />
<line x1="380.88" y1="513.6" x2="392.48" y2="513.6" stroke="#000" stroke-width="1.5" />
<line x1="380.88" y1="516.4" x2="392.48" y2="516.4" stroke="#000" stroke-width="1.5" />
<circle cx="386.68" cy="515" r="3.85" fill="#000"/>
<line x1="400.24" y1="513.6" x2="400.24" y2="516.4" stroke="#000" stroke-width="1.3" />
<line x1="394.44" y1="513.6" x2="406.04" y2="513.6" stroke="#000" stroke-width="1.5" />
<line x1="394.44" y1="516.4" x2="406.04" y2="516.4" stroke="#000" stroke-width="1.5" />
<circle cx="400.24" cy="515" r="3.85" fill="#000"/>
<line x1="413.8" y1="513.6" x2="413.8" y2="516.4" stroke="#000" stroke-width="1.3" />
<line x1="408" y1="513.6" x2="419.6" y2="513.6" stroke="#000" stroke-width="1.5" />
<line x1="408" y1="516.4" x2="419.6" y2="516.4" stroke="#000" stroke-width="1.5" />
<circle cx="413.8" cy="515" r="3.85" fill="#000"/>
<line x1="427.36" y1="513.6" x2="427.36" y2="516.4" stroke="#000" stroke-width="1.3" />
<line x1="421.56" y1="513.6" x2="433.16" y2="513.6" stroke="#000" stroke-width="1.5" />
<line x1="421.56" y1="516.4" x2="433.16" y2="516.4" stroke="#000" stroke-width="1.5" />
<circle cx="427.36" cy="515" r="3.85" fill="#000"/>
<line x1="440.92" y1="513.6" x2="440.92" y2="516.4" stroke="#000" stroke-width="1.3" />
<line x1="435.12" y1="513.6" x2="446.72" y2="513.6" stroke="#000" stroke-width="1.5" />
<line x1="435.12" y1="516.4" x2="446.72" y2="516.4" stroke="#000" stroke-width="1.5" />
<circle cx="440.92" cy="515" r="3.85" fill="#000"/>
<line x1="454.48" y1="513.9" x2="454.48" y2="516.7" stroke="#000" stroke-width="1.3" />
<line x1="448.68" y1="513.9" x2="460.28" y2="513.9" stroke="#000" stroke-width="1.5" />
<line x1="448.68" y1="516.7" x2="460.28" y2="516.7" stroke="#000" stroke-width="1.5" />
<circle cx="454.48" cy="515.3" r="3.85" fill="#000"/>
<line x1="305.32" y1="705.3" x2="305.32" y2="709.3" stroke="#000" stroke-width="1.3" />
<line x1="299.52" y1="705.3" x2="311.12" y2="705.3" stroke="#000" stroke-width="1.5" />
<line x1="299.52" y1="709.3" x2="311.12" y2="709.3" stroke="#000" stroke-width="1.5" />
<circle cx="305.32" cy="707.3" r="3.85" fill="#000"/>
<line x1="318.88" y1="705" x2="318.88" y2="709" stroke="#000" stroke-width="1.3" />
<line x1="313.08" y1="705" x2="324.68" y2="705" stroke="#000" stroke-width="1.5" />
<line x1="313.08" y1="709" x2="324.68" y2="709" stroke="#000" stroke-width="1.5" />
<circle cx="318.88" cy="707" r="3.85" fill="#000"/>
<line x1="332.44" y1="704.5" x2="332.44" y2="708.5" stroke="#000" stroke-width="1.3" />
<line x1="326.64" y1="704.5" x2="338.24" y2="704.5" stroke="#000" stroke-width="1.5" />
<line x1="326.64" y1="708.5" x2="338.24" y2="708.5" stroke="#000" stroke-width="1.5" />
<circle cx="332.44" cy="706.5" r="3.85" fill="#000"/>
<line x1="346" y1="704.3" x2="346" y2="708.3" stroke="#000" stroke-width="1.3" />
<line x1="340.2" y1="704.3" x2="351.8" y2="704.3" stroke="#000" stroke-width="1.5" />
<line x1="340.2" y1="708.3" x2="351.8" y2="708.3" stroke="#000" stroke-width="1.5" />
<circle cx="346" cy="706.3" r="3.85" fill="#000"/>
<line x1="359.56" y1="705" x2="359.56" y2="709" stroke="#000" stroke-width="1.3" />
<line x1="353.76" y1="705" x2="365.36" y2="705" stroke="#000" stroke-width="1.5" />
<line x1="353.76" y1="709" x2="365.36" y2="709" stroke="#000" stroke-width="1.5" />
<circle cx="359.56" cy="707" r="3.85" fill="#000"/>
<line x1="373.12" y1="704.5" x2="373.12" y2="708.5" stroke="#000" stroke-width="1.3" />
<line x1="367.32" y1="704.5" x2="378.92" y2="704.5" stroke="#000" stroke-width="1.5" />
<line x1="367.32" y1="708.5" x2="378.92" y2="708.5" stroke="#000" stroke-width="1.5" />
<circle cx="373.12" cy="706.5" r="3.85" fill="#000"/>
<line x1="386.68" y1="705.5" x2="386.68" y2="709.5" stroke="#000" stroke-width="1.3" />
<line x1="380.88" y1="705.5" x2="392.48" y2="705.5" stroke="#000" stroke-width="1.5" />
<line x1="380.88" y1="709.5" x2="392.48" y2="709.5" stroke="#000" stroke-width="1.5" />
<circle cx="386.68" cy="707.5" r="3.85" fill="#000"/>
<line x1="400.24" y1="705.3" x2="400.24" y2="709.3" stroke="#000" stroke-width="1.3" />
<line x1="394.44" y1="705.3" x2="406.04" y2="705.3" stroke="#000" stroke-width="1.5" />
<line x1="394.44" y1="709.3" x2="406.04" y2="709.3" stroke="#000" stroke-width="1.5" />
<circle cx="400.24" cy="707.3" r="3.85" fill="#000"/>
<line x1="413.8" y1="704.5" x2="413.8" y2="708.5" stroke="#000" stroke-width="1.3" />
<line x1="408" y1="704.5" x2="419.6" y2="704.5" stroke="#000" stroke-width="1.5" />
<line x1="408" y1="708.5" x2="419.6" y2="708.5" stroke="#000" stroke-width="1.5" />
<circle cx="413.8" cy="706.5" r="3.85" fill="#000"/>
<line x1="427.36" y1="704" x2="427.36" y2="708" stroke="#000" stroke-width="1.3" />
<line x1="421.56" y1="704" x2="433.16" y2="704" stroke="#000" stroke-width="1.5" />
<line x1="421.56" y1="708" x2="433.16" y2="708" stroke="#000" stroke-width="1.5" />
<circle cx="427.36" cy="706" r="3.85" fill="#000"/>
<line x1="440.92" y1="703.7" x2="440.92" y2="707.7" stroke="#000" stroke-width="1.3" />
<line x1="435.12" y1="703.7" x2="446.72" y2="703.7" stroke="#000" stroke-width="1.5" />
<line x1="435.12" y1="707.7" x2="446.72" y2="707.7" stroke="#000" stroke-width="1.5" />
<circle cx="440.92" cy="705.7" r="3.85" fill="#000"/>
<line x1="454.48" y1="704" x2="454.48" y2="708" stroke="#000" stroke-width="1.3" />
<line x1="448.68" y1="704" x2="460.28" y2="704" stroke="#000" stroke-width="1.5" />
<line x1="448.68" y1="708" x2="460.28" y2="708" stroke="#000" stroke-width="1.5" />
<circle cx="454.48" cy="706" r="3.85" fill="#000"/>
<line x1="539.67" y1="260.4" x2="539.67" y2="276.2" stroke="#000" stroke-width="1.3" />
<line x1="533.87" y1="260.4" x2="545.47" y2="260.4" stroke="#000" stroke-width="1.5" />
<line x1="533.87" y1="276.2" x2="545.47" y2="276.2" stroke="#000" stroke-width="1.5" />
<circle cx="539.67" cy="268.3" r="3.85" fill="#000"/>
<line x1="553.23" y1="270.8" x2="553.23" y2="285" stroke="#000" stroke-width="1.3" />
<line x1="547.43" y1="270.8" x2="559.03" y2="270.8" stroke="#000" stroke-width="1.5" />
<line x1="547.43" y1="285" x2="559.03" y2="285" stroke="#000" stroke-width="1.5" />
<circle cx="553.23" cy="277.9" r="3.85" fill="#000"/>
<line x1="566.79" y1="281.7" x2="566.79" y2="295.5" stroke="#000" stroke-width="1.3" />
<line x1="560.99" y1="281.7" x2="572.59" y2="281.7" stroke="#000" stroke-width="1.5" />
<line x1="560.99" y1="295.5" x2="572.59" y2="295.5" stroke="#000" stroke-width="1.5" />
<circle cx="566.79" cy="288.6" r="3.85" fill="#000"/>
<line x1="580.35" y1="292.4" x2="580.35" y2="303.4" stroke="#000" stroke-width="1.3" />
<line x1="574.55" y1="292.4" x2="586.15" y2="292.4" stroke="#000" stroke-width="1.5" />
<line x1="574.55" y1="303.4" x2="586.15" y2="303.4" stroke="#000" stroke-width="1.5" />
<circle cx="580.35" cy="297.9" r="3.85" fill="#000"/>
<line x1="593.91" y1="301.8" x2="593.91" y2="312" stroke="#000" stroke-width="1.3" />
<line x1="588.11" y1="301.8" x2="599.71" y2="301.8" stroke="#000" stroke-width="1.5" />
<line x1="588.11" y1="312" x2="599.71" y2="312" stroke="#000" stroke-width="1.5" />
<circle cx="593.91" cy="306.9" r="3.85" fill="#000"/>
<line x1="607.47" y1="315.1" x2="607.47" y2="322.9" stroke="#000" stroke-width="1.3" />
<line x1="601.67" y1="315.1" x2="613.27" y2="315.1" stroke="#000" stroke-width="1.5" />
<line x1="601.67" y1="322.9" x2="613.27" y2="322.9" stroke="#000" stroke-width="1.5" />
<circle cx="607.47" cy="319" r="3.85" fill="#000"/>
<line x1="621.03" y1="321.3" x2="621.03" y2="330.1" stroke="#000" stroke-width="1.3" />
<line x1="615.23" y1="321.3" x2="626.83" y2="321.3" stroke="#000" stroke-width="1.5" />
<line x1="615.23" y1="330.1" x2="626.83" y2="330.1" stroke="#000" stroke-width="1.5" />
<circle cx="621.03" cy="325.7" r="3.85" fill="#000"/>
<line x1="634.59" y1="323" x2="634.59" y2="331.2" stroke="#000" stroke-width="1.3" />
<line x1="628.79" y1="323" x2="640.39" y2="323" stroke="#000" stroke-width="1.5" />
<line x1="628.79" y1="331.2" x2="640.39" y2="331.2" stroke="#000" stroke-width="1.5" />
<circle cx="634.59" cy="327.1" r="3.85" fill="#000"/>
<line x1="648.15" y1="321.6" x2="648.15" y2="329.8" stroke="#000" stroke-width="1.3" />
<line x1="642.35" y1="321.6" x2="653.95" y2="321.6" stroke="#000" stroke-width="1.5" />
<line x1="642.35" y1="329.8" x2="653.95" y2="329.8" stroke="#000" stroke-width="1.5" />
<circle cx="648.15" cy="325.7" r="3.85" fill="#000"/>
<line x1="661.71" y1="318.6" x2="661.71" y2="327.2" stroke="#000" stroke-width="1.3" />
<line x1="655.91" y1="318.6" x2="667.51" y2="318.6" stroke="#000" stroke-width="1.5" />
<line x1="655.91" y1="327.2" x2="667.51" y2="327.2" stroke="#000" stroke-width="1.5" />
<circle cx="661.71" cy="322.9" r="3.85" fill="#000"/>
<line x1="675.27" y1="315.4" x2="675.27" y2="323.2" stroke="#000" stroke-width="1.3" />
<line x1="669.47" y1="315.4" x2="681.07" y2="315.4" stroke="#000" stroke-width="1.5" />
<line x1="669.47" y1="323.2" x2="681.07" y2="323.2" stroke="#000" stroke-width="1.5" />
<circle cx="675.27" cy="319.3" r="3.85" fill="#000"/>
<line x1="688.83" y1="310.7" x2="688.83" y2="319.9" stroke="#000" stroke-width="1.3" />
<line x1="683.03" y1="310.7" x2="694.63" y2="310.7" stroke="#000" stroke-width="1.5" />
<line x1="683.03" y1="319.9" x2="694.63" y2="319.9" stroke="#000" stroke-width="1.5" />
<circle cx="688.83" cy="315.3" r="3.85" fill="#000"/>
<line x1="539.67" y1="489.7" x2="539.67" y2="492.9" stroke="#000" stroke-width="1.3" />
<line x1="533.87" y1="489.7" x2="545.47" y2="489.7" stroke="#000" stroke-width="1.5" />
<line x1="533.87" y1="492.9" x2="545.47" y2="492.9" stroke="#000" stroke-width="1.5" />
<circle cx="539.67" cy="491.3" r="3.85" fill="#000"/>
<line x1="553.23" y1="495.7" x2="553.23" y2="498.9" stroke="#000" stroke-width="1.3" />
<line x1="547.43" y1="495.7" x2="559.03" y2="495.7" stroke="#000" stroke-width="1.5" />
<line x1="547.43" y1="498.9" x2="559.03" y2="498.9" stroke="#000" stroke-width="1.5" />
<circle cx="553.23" cy="497.3" r="3.85" fill="#000"/>
<line x1="566.79" y1="498.9" x2="566.79" y2="502.1" stroke="#000" stroke-width="1.3" />
<line x1="560.99" y1="498.9" x2="572.59" y2="498.9" stroke="#000" stroke-width="1.5" />
<line x1="560.99" y1="502.1" x2="572.59" y2="502.1" stroke="#000" stroke-width="1.5" />
<circle cx="566.79" cy="500.5" r="3.85" fill="#000"/>
<line x1="580.35" y1="504.5" x2="580.35" y2="507.7" stroke="#000" stroke-width="1.3" />
<line x1="574.55" y1="504.5" x2="586.15" y2="504.5" stroke="#000" stroke-width="1.5" />
<line x1="574.55" y1="507.7" x2="586.15" y2="507.7" stroke="#000" stroke-width="1.5" />
<circle cx="580.35" cy="506.1" r="3.85" fill="#000"/>
<line x1="593.91" y1="507.1" x2="593.91" y2="510.3" stroke="#000" stroke-width="1.3" />
<line x1="588.11" y1="507.1" x2="599.71" y2="507.1" stroke="#000" stroke-width="1.5" />
<line x1="588.11" y1="510.3" x2="599.71" y2="510.3" stroke="#000" stroke-width="1.5" />
<circle cx="593.91" cy="508.7" r="3.85" fill="#000"/>
<line x1="607.47" y1="511.7" x2="607.47" y2="514.9" stroke="#000" stroke-width="1.3" />
<line x1="601.67" y1="511.7" x2="613.27" y2="511.7" stroke="#000" stroke-width="1.5" />
<line x1="601.67" y1="514.9" x2="613.27" y2="514.9" stroke="#000" stroke-width="1.5" />
<circle cx="607.47" cy="513.3" r="3.85" fill="#000"/>
<line x1="621.03" y1="513" x2="621.03" y2="516.2" stroke="#000" stroke-width="1.3" />
<line x1="615.23" y1="513" x2="626.83" y2="513" stroke="#000" stroke-width="1.5" />
<line x1="615.23" y1="516.2" x2="626.83" y2="516.2" stroke="#000" stroke-width="1.5" />
<circle cx="621.03" cy="514.6" r="3.85" fill="#000"/>
<line x1="634.59" y1="513" x2="634.59" y2="516.2" stroke="#000" stroke-width="1.3" />
<line x1="628.79" y1="513" x2="640.39" y2="513" stroke="#000" stroke-width="1.5" />
<line x1="628.79" y1="516.2" x2="640.39" y2="516.2" stroke="#000" stroke-width="1.5" />
<circle cx="634.59" cy="514.6" r="3.85" fill="#000"/>
<line x1="648.15" y1="513.4" x2="648.15" y2="516.6" stroke="#000" stroke-width="1.3" />
<line x1="642.35" y1="513.4" x2="653.95" y2="513.4" stroke="#000" stroke-width="1.5" />
<line x1="642.35" y1="516.6" x2="653.95" y2="516.6" stroke="#000" stroke-width="1.5" />
<circle cx="648.15" cy="515" r="3.85" fill="#000"/>
<line x1="661.71" y1="512" x2="661.71" y2="515.2" stroke="#000" stroke-width="1.3" />
<line x1="655.91" y1="512" x2="667.51" y2="512" stroke="#000" stroke-width="1.5" />
<line x1="655.91" y1="515.2" x2="667.51" y2="515.2" stroke="#000" stroke-width="1.5" />
<circle cx="661.71" cy="513.6" r="3.85" fill="#000"/>
<line x1="675.27" y1="511" x2="675.27" y2="514.2" stroke="#000" stroke-width="1.3" />
<line x1="669.47" y1="511" x2="681.07" y2="511" stroke="#000" stroke-width="1.5" />
<line x1="669.47" y1="514.2" x2="681.07" y2="514.2" stroke="#000" stroke-width="1.5" />
<circle cx="675.27" cy="512.6" r="3.85" fill="#000"/>
<line x1="688.83" y1="508.4" x2="688.83" y2="511.6" stroke="#000" stroke-width="1.3" />
<line x1="683.03" y1="508.4" x2="694.63" y2="508.4" stroke="#000" stroke-width="1.5" />
<line x1="683.03" y1="511.6" x2="694.63" y2="511.6" stroke="#000" stroke-width="1.5" />
<circle cx="688.83" cy="510" r="3.85" fill="#000"/>
<line x1="539.67" y1="694.9" x2="539.67" y2="701.1" stroke="#000" stroke-width="1.3" />
<line x1="533.87" y1="694.9" x2="545.47" y2="694.9" stroke="#000" stroke-width="1.5" />
<line x1="533.87" y1="701.1" x2="545.47" y2="701.1" stroke="#000" stroke-width="1.5" />
<circle cx="539.67" cy="698" r="3.85" fill="#000"/>
<line x1="553.23" y1="696.6" x2="553.23" y2="701.6" stroke="#000" stroke-width="1.3" />
<line x1="547.43" y1="696.6" x2="559.03" y2="696.6" stroke="#000" stroke-width="1.5" />
<line x1="547.43" y1="701.6" x2="559.03" y2="701.6" stroke="#000" stroke-width="1.5" />
<circle cx="553.23" cy="699.1" r="3.85" fill="#000"/>
<line x1="566.79" y1="695.6" x2="566.79" y2="700.8" stroke="#000" stroke-width="1.3" />
<line x1="560.99" y1="695.6" x2="572.59" y2="695.6" stroke="#000" stroke-width="1.5" />
<line x1="560.99" y1="700.8" x2="572.59" y2="700.8" stroke="#000" stroke-width="1.5" />
<circle cx="566.79" cy="698.2" r="3.85" fill="#000"/>
<line x1="580.35" y1="698.1" x2="580.35" y2="704.1" stroke="#000" stroke-width="1.3" />
<line x1="574.55" y1="698.1" x2="586.15" y2="698.1" stroke="#000" stroke-width="1.5" />
<line x1="574.55" y1="704.1" x2="586.15" y2="704.1" stroke="#000" stroke-width="1.5" />
<circle cx="580.35" cy="701.1" r="3.85" fill="#000"/>
<line x1="593.91" y1="700.2" x2="593.91" y2="706.4" stroke="#000" stroke-width="1.3" />
<line x1="588.11" y1="700.2" x2="599.71" y2="700.2" stroke="#000" stroke-width="1.5" />
<line x1="588.11" y1="706.4" x2="599.71" y2="706.4" stroke="#000" stroke-width="1.5" />
<circle cx="593.91" cy="703.3" r="3.85" fill="#000"/>
<line x1="607.47" y1="702.4" x2="607.47" y2="709.2" stroke="#000" stroke-width="1.3" />
<line x1="601.67" y1="702.4" x2="613.27" y2="702.4" stroke="#000" stroke-width="1.5" />
<line x1="601.67" y1="709.2" x2="613.27" y2="709.2" stroke="#000" stroke-width="1.5" />
<circle cx="607.47" cy="705.8" r="3.85" fill="#000"/>
<line x1="621.03" y1="706.9" x2="621.03" y2="710.9" stroke="#000" stroke-width="1.3" />
<line x1="615.23" y1="706.9" x2="626.83" y2="706.9" stroke="#000" stroke-width="1.5" />
<line x1="615.23" y1="710.9" x2="626.83" y2="710.9" stroke="#000" stroke-width="1.5" />
<circle cx="621.03" cy="708.9" r="3.85" fill="#000"/>
<line x1="634.59" y1="706.9" x2="634.59" y2="710.9" stroke="#000" stroke-width="1.3" />
<line x1="628.79" y1="706.9" x2="640.39" y2="706.9" stroke="#000" stroke-width="1.5" />
<line x1="628.79" y1="710.9" x2="640.39" y2="710.9" stroke="#000" stroke-width="1.5" />
<circle cx="634.59" cy="708.9" r="3.85" fill="#000"/>
<line x1="648.15" y1="706.9" x2="648.15" y2="710.9" stroke="#000" stroke-width="1.3" />
<line x1="642.35" y1="706.9" x2="653.95" y2="706.9" stroke="#000" stroke-width="1.5" />
<line x1="642.35" y1="710.9" x2="653.95" y2="710.9" stroke="#000" stroke-width="1.5" />
<circle cx="648.15" cy="708.9" r="3.85" fill="#000"/>
<line x1="661.71" y1="706.2" x2="661.71" y2="710.6" stroke="#000" stroke-width="1.3" />
<line x1="655.91" y1="706.2" x2="667.51" y2="706.2" stroke="#000" stroke-width="1.5" />
<line x1="655.91" y1="710.6" x2="667.51" y2="710.6" stroke="#000" stroke-width="1.5" />
<circle cx="661.71" cy="708.4" r="3.85" fill="#000"/>
<line x1="675.27" y1="706.1" x2="675.27" y2="710.7" stroke="#000" stroke-width="1.3" />
<line x1="669.47" y1="706.1" x2="681.07" y2="706.1" stroke="#000" stroke-width="1.5" />
<line x1="669.47" y1="710.7" x2="681.07" y2="710.7" stroke="#000" stroke-width="1.5" />
<circle cx="675.27" cy="708.4" r="3.85" fill="#000"/>
<line x1="688.83" y1="705.7" x2="688.83" y2="710.3" stroke="#000" stroke-width="1.3" />
<line x1="683.03" y1="705.7" x2="694.63" y2="705.7" stroke="#000" stroke-width="1.5" />
<line x1="683.03" y1="710.3" x2="694.63" y2="710.3" stroke="#000" stroke-width="1.5" />
<circle cx="688.83" cy="708" r="3.85" fill="#000"/>
<text transform="translate(217.9,269.2) scale(1,1.08)" font-size="15.3" text-anchor="end" fill="#6a6a6a" stroke="#6a6a6a" stroke-width="0.15" font-weight="normal" font-style="normal" >Cx36</text>
<text transform="translate(460.8,269.2) scale(1,1.08)" font-size="15.3" text-anchor="end" fill="#6a6a6a" stroke="#6a6a6a" stroke-width="0.15" font-weight="normal" font-style="normal" >Cx36</text>
<text transform="translate(696.9,269.2) scale(1,1.08)" font-size="15.3" text-anchor="end" fill="#6a6a6a" stroke="#6a6a6a" stroke-width="0.15" font-weight="normal" font-style="normal" >Cx36</text>
<text transform="translate(217.7,458.1) scale(1,1.08)" font-size="15.3" text-anchor="end" fill="#6a6a6a" stroke="#6a6a6a" stroke-width="0.15" font-weight="normal" font-style="normal" >Cx36</text>
<text transform="translate(219,475.2) scale(1,1.08)" font-size="15.3" text-anchor="end" fill="#6a6a6a" stroke="#6a6a6a" stroke-width="0.15" font-weight="normal" font-style="normal" >D47G</text>
<text transform="translate(460.8,458.1) scale(1,1.08)" font-size="15.3" text-anchor="end" fill="#6a6a6a" stroke="#6a6a6a" stroke-width="0.15" font-weight="normal" font-style="normal" >Cx36</text>
<text transform="translate(462,475.2) scale(1,1.08)" font-size="15.3" text-anchor="end" fill="#6a6a6a" stroke="#6a6a6a" stroke-width="0.15" font-weight="normal" font-style="normal" >D47G</text>
<text transform="translate(696.4,458.1) scale(1,1.08)" font-size="15.3" text-anchor="end" fill="#6a6a6a" stroke="#6a6a6a" stroke-width="0.15" font-weight="normal" font-style="normal" >Cx36</text>
<text transform="translate(697.9,475.2) scale(1,1.08)" font-size="15.3" text-anchor="end" fill="#6a6a6a" stroke="#6a6a6a" stroke-width="0.15" font-weight="normal" font-style="normal" >D47G</text>
<text transform="translate(214.7,654.2) scale(1,1.08)" font-size="15.3" text-anchor="end" fill="#6a6a6a" stroke="#6a6a6a" stroke-width="0.15" font-weight="normal" font-style="normal" >CH3</text>
<text transform="translate(458.1,654.2) scale(1,1.08)" font-size="15.3" text-anchor="end" fill="#6a6a6a" stroke="#6a6a6a" stroke-width="0.15" font-weight="normal" font-style="normal" >CH3</text>
<text transform="translate(693.8,654.2) scale(1,1.08)" font-size="15.3" text-anchor="end" fill="#6a6a6a" stroke="#6a6a6a" stroke-width="0.15" font-weight="normal" font-style="normal" >CH3</text>
<text transform="translate(93.7,271.6) scale(1,1.08)" font-size="12.5" text-anchor="start" fill="#000" stroke="#000" stroke-width="0.15" font-weight="normal" font-style="normal" >Inst.</text>
<line x1="91.1" y1="295.9" x2="101.2" y2="280.2" stroke="#000" stroke-width="1.0" />
<text transform="translate(153.8,390.6) scale(1,1.08)" font-size="12.5" text-anchor="start" fill="#6a6a6a" stroke="#6a6a6a" stroke-width="0.15" font-weight="normal" font-style="normal" >Steady-State</text>
<line x1="173.3" y1="376.2" x2="180.8" y2="352.9" stroke="#555" stroke-width="1.0" />
<line x1="121.3" y1="854" x2="121.3" y2="1016.15" stroke="#000" stroke-width="1.35" />
<line x1="120.65" y1="1015.5" x2="562" y2="1015.5" stroke="#000" stroke-width="1.35" />
<line x1="121.3" y1="892.5" x2="127.3" y2="892.5" stroke="#000" stroke-width="1.35" />
<text transform="translate(112.8,897.1) scale(1,1.08)" font-size="15" text-anchor="end" fill="#000" stroke="#000" stroke-width="0.15" font-weight="normal" font-style="normal" >1.5</text>
<line x1="121.3" y1="954" x2="127.3" y2="954" stroke="#000" stroke-width="1.35" />
<text transform="translate(112.8,958.6) scale(1,1.08)" font-size="15" text-anchor="end" fill="#000" stroke="#000" stroke-width="0.15" font-weight="normal" font-style="normal" >1.0</text>
<line x1="121.3" y1="1015.5" x2="127.3" y2="1015.5" stroke="#000" stroke-width="1.35" />
<text transform="translate(112.8,1020.1) scale(1,1.08)" font-size="15" text-anchor="end" fill="#000" stroke="#000" stroke-width="0.15" font-weight="normal" font-style="normal" >0.5</text>
<line x1="140.95" y1="900.8" x2="140.95" y2="893.5" stroke="#000" stroke-width="1.3" />
<line x1="135.35" y1="893.5" x2="146.55" y2="893.5" stroke="#000" stroke-width="1.5" />
<rect x="127.6" y="901.3" width="26.7" height="114.2" fill="#000" stroke="#1a1a1a" stroke-width="1"/>
<line x1="174.15" y1="899.1" x2="174.15" y2="891.8" stroke="#000" stroke-width="1.3" />
<line x1="168.55" y1="891.8" x2="179.75" y2="891.8" stroke="#000" stroke-width="1.5" />
<rect x="160.8" y="899.6" width="26.7" height="115.9" fill="#000" stroke="#1a1a1a" stroke-width="1"/>
<line x1="208.1" y1="950.1" x2="208.1" y2="949.3" stroke="#000" stroke-width="1.3" />
<line x1="202.5" y1="949.3" x2="213.7" y2="949.3" stroke="#000" stroke-width="1.5" />
<rect x="194.8" y="950.6" width="26.6" height="64.9" fill="#b4b4b4" stroke="#1a1a1a" stroke-width="1"/>
<line x1="240.8" y1="948.8" x2="240.8" y2="946.5" stroke="#000" stroke-width="1.3" />
<line x1="235.2" y1="946.5" x2="246.4" y2="946.5" stroke="#000" stroke-width="1.5" />
<rect x="227.5" y="949.3" width="26.6" height="66.2" fill="#b4b4b4" stroke="#1a1a1a" stroke-width="1"/>
<line x1="274.55" y1="879" x2="274.55" y2="871.4" stroke="#000" stroke-width="1.3" />
<line x1="268.95" y1="871.4" x2="280.15" y2="871.4" stroke="#000" stroke-width="1.5" />
<rect x="261.1" y="879.5" width="26.9" height="136" fill="#6e6e6e" stroke="#1a1a1a" stroke-width="1"/>
<line x1="307.9" y1="942.3" x2="307.9" y2="941.3" stroke="#000" stroke-width="1.3" />
<line x1="302.3" y1="941.3" x2="313.5" y2="941.3" stroke="#000" stroke-width="1.5" />
<rect x="294.7" y="942.8" width="26.4" height="72.7" fill="#6e6e6e" stroke="#1a1a1a" stroke-width="1"/>
<line x1="374.7" y1="926.7" x2="374.7" y2="920.4" stroke="#000" stroke-width="1.3" />
<line x1="369.1" y1="920.4" x2="380.3" y2="920.4" stroke="#000" stroke-width="1.5" />
<rect x="361.4" y="927.2" width="26.6" height="88.3" fill="#000" stroke="#1a1a1a" stroke-width="1"/>
<line x1="407.85" y1="928.5" x2="407.85" y2="923" stroke="#000" stroke-width="1.3" />
<line x1="402.25" y1="923" x2="413.45" y2="923" stroke="#000" stroke-width="1.5" />
<rect x="394.5" y="929" width="26.7" height="86.5" fill="#000" stroke="#1a1a1a" stroke-width="1"/>
<line x1="441.1" y1="953.9" x2="441.1" y2="953.5" stroke="#000" stroke-width="1.3" />
<line x1="435.5" y1="953.5" x2="446.7" y2="953.5" stroke="#000" stroke-width="1.5" />
<rect x="428" y="954.4" width="26.2" height="61.1" fill="#b4b4b4" stroke="#1a1a1a" stroke-width="1"/>
<line x1="474.45" y1="953.9" x2="474.45" y2="953.6" stroke="#000" stroke-width="1.3" />
<line x1="468.85" y1="953.6" x2="480.05" y2="953.6" stroke="#000" stroke-width="1.5" />
<rect x="461.5" y="954.4" width="25.9" height="61.1" fill="#b4b4b4" stroke="#1a1a1a" stroke-width="1"/>
<line x1="508.25" y1="919.2" x2="508.25" y2="915.4" stroke="#000" stroke-width="1.3" />
<line x1="502.65" y1="915.4" x2="513.85" y2="915.4" stroke="#000" stroke-width="1.5" />
<rect x="495.2" y="919.7" width="26.1" height="95.8" fill="#6e6e6e" stroke="#1a1a1a" stroke-width="1"/>
<line x1="541.4" y1="943" x2="541.4" y2="940.6" stroke="#000" stroke-width="1.3" />
<line x1="535.8" y1="940.6" x2="547" y2="940.6" stroke="#000" stroke-width="1.5" />
<rect x="528.1" y="943.5" width="26.6" height="72" fill="#6e6e6e" stroke="#1a1a1a" stroke-width="1"/>
<line x1="123.6" y1="954" x2="565.9" y2="954" stroke="#000" stroke-width="1.5" stroke-dasharray="10.5 4.1"/>
<text transform="translate(140.95,1007.4) scale(1,1.08)" font-size="16" text-anchor="middle" fill="#fff" stroke="#fff" stroke-width="0.15" font-weight="normal" font-style="normal" >5</text>
<line x1="135.55" y1="1025.8" x2="146.35" y2="1025.8" stroke="#000" stroke-width="1.9" />
<text transform="translate(174.15,1007.4) scale(1,1.08)" font-size="16" text-anchor="middle" fill="#fff" stroke="#fff" stroke-width="0.15" font-weight="normal" font-style="normal" >5</text>
<line x1="169.05" y1="1025.8" x2="179.25" y2="1025.8" stroke="#000" stroke-width="2.0" />
<line x1="174.15" y1="1020.7" x2="174.15" y2="1030.9" stroke="#000" stroke-width="2.0" />
<text transform="translate(208.1,1007.4) scale(1,1.08)" font-size="16" text-anchor="middle" fill="#1a1a1a" stroke="#1a1a1a" stroke-width="0.15" font-weight="normal" font-style="normal" >4</text>
<line x1="202.7" y1="1025.8" x2="213.5" y2="1025.8" stroke="#000" stroke-width="1.9" />
<text transform="translate(240.8,1007.4) scale(1,1.08)" font-size="16" text-anchor="middle" fill="#1a1a1a" stroke="#1a1a1a" stroke-width="0.15" font-weight="normal" font-style="normal" >4</text>
<line x1="235.7" y1="1025.8" x2="245.9" y2="1025.8" stroke="#000" stroke-width="2.0" />
<line x1="240.8" y1="1020.7" x2="240.8" y2="1030.9" stroke="#000" stroke-width="2.0" />
<text transform="translate(274.55,1007.4) scale(1,1.08)" font-size="16" text-anchor="middle" fill="#1a1a1a" stroke="#1a1a1a" stroke-width="0.15" font-weight="normal" font-style="normal" >5</text>
<line x1="269.15" y1="1025.8" x2="279.95" y2="1025.8" stroke="#000" stroke-width="1.9" />
<text transform="translate(307.9,1007.4) scale(1,1.08)" font-size="16" text-anchor="middle" fill="#1a1a1a" stroke="#1a1a1a" stroke-width="0.15" font-weight="normal" font-style="normal" >5</text>
<line x1="302.8" y1="1025.8" x2="313" y2="1025.8" stroke="#000" stroke-width="2.0" />
<line x1="307.9" y1="1020.7" x2="307.9" y2="1030.9" stroke="#000" stroke-width="2.0" />
<text transform="translate(374.7,1007.4) scale(1,1.08)" font-size="16" text-anchor="middle" fill="#fff" stroke="#fff" stroke-width="0.15" font-weight="normal" font-style="normal" >5</text>
<line x1="369.3" y1="1025.8" x2="380.1" y2="1025.8" stroke="#000" stroke-width="1.9" />
<text transform="translate(407.85,1007.4) scale(1,1.08)" font-size="16" text-anchor="middle" fill="#fff" stroke="#fff" stroke-width="0.15" font-weight="normal" font-style="normal" >5</text>
<line x1="402.75" y1="1025.8" x2="412.95" y2="1025.8" stroke="#000" stroke-width="2.0" />
<line x1="407.85" y1="1020.7" x2="407.85" y2="1030.9" stroke="#000" stroke-width="2.0" />
<text transform="translate(441.1,1007.4) scale(1,1.08)" font-size="16" text-anchor="middle" fill="#1a1a1a" stroke="#1a1a1a" stroke-width="0.15" font-weight="normal" font-style="normal" >6</text>
<line x1="435.7" y1="1025.8" x2="446.5" y2="1025.8" stroke="#000" stroke-width="1.9" />
<text transform="translate(474.45,1007.4) scale(1,1.08)" font-size="16" text-anchor="middle" fill="#1a1a1a" stroke="#1a1a1a" stroke-width="0.15" font-weight="normal" font-style="normal" >6</text>
<line x1="469.35" y1="1025.8" x2="479.55" y2="1025.8" stroke="#000" stroke-width="2.0" />
<line x1="474.45" y1="1020.7" x2="474.45" y2="1030.9" stroke="#000" stroke-width="2.0" />
<text transform="translate(508.25,1007.4) scale(1,1.08)" font-size="16" text-anchor="middle" fill="#1a1a1a" stroke="#1a1a1a" stroke-width="0.15" font-weight="normal" font-style="normal" >5</text>
<line x1="502.85" y1="1025.8" x2="513.65" y2="1025.8" stroke="#000" stroke-width="1.9" />
<text transform="translate(541.4,1007.4) scale(1,1.08)" font-size="16" text-anchor="middle" fill="#1a1a1a" stroke="#1a1a1a" stroke-width="0.15" font-weight="normal" font-style="normal" >5</text>
<line x1="536.3" y1="1025.8" x2="546.5" y2="1025.8" stroke="#000" stroke-width="2.0" />
<line x1="541.4" y1="1020.7" x2="541.4" y2="1030.9" stroke="#000" stroke-width="2.0" />
<text transform="translate(222.8,1048.5) scale(1,1.08)" font-size="18" text-anchor="middle" fill="#6a6a6a" stroke="#6a6a6a" stroke-width="0.15" font-weight="normal" font-style="normal" >Cx36</text>
<text transform="translate(458,1048.5) scale(1,1.08)" font-size="18.5" text-anchor="middle" fill="#6a6a6a" stroke="#6a6a6a" stroke-width="0.15" font-weight="normal" font-style="normal" >Cx36D47G</text>
<text transform="translate(24,884) scale(1,1)" font-size="26" text-anchor="start" fill="#000" stroke="#000" stroke-width="0.15" font-weight="bold" font-style="normal" >f</text>
<text transform="translate(53,950) rotate(-90)" font-size="19" text-anchor="middle" fill="#000" stroke="#000" stroke-width="0.15">g<tspan font-size="12" dy="4">j,inst</tspan><tspan dy="-4">, norm.</tspan></text>
<text transform="translate(79,947) rotate(-90)" font-size="18.8" text-anchor="middle" fill="#000" stroke="#000" stroke-width="0.15">Value at V<tspan font-size="12" dy="4">j</tspan><tspan dy="-4"> = </tspan><tspan text-decoration="underline">+</tspan>85 mV</text>
<rect x="545.4" y="853.5" width="13.2" height="13.2" fill="#000" stroke="#1a1a1a" stroke-width="1"/>
<rect x="545.4" y="881.2" width="13.2" height="13.2" fill="#b4b4b4" stroke="#1a1a1a" stroke-width="1"/>
<rect x="545.4" y="908.4" width="13.2" height="13.2" fill="#6e6e6e" stroke="#1a1a1a" stroke-width="1"/>
<text transform="translate(572.1,864.7) scale(1,1.08)" font-size="12.5" text-anchor="start" fill="#000" stroke="#000" stroke-width="0.15" font-weight="normal" font-style="normal" >Symmetric High Mg<tspan font-size="8" dy="-6">2+</tspan></text>
<text transform="translate(572.1,893.3) scale(1,1.08)" font-size="12.5" text-anchor="start" fill="#000" stroke="#000" stroke-width="0.15" font-weight="normal" font-style="normal" >Symmetric Low Mg<tspan font-size="8" dy="-6">2+</tspan></text>
<text transform="translate(572.1,921) scale(1,1.08)" font-size="12.5" text-anchor="start" fill="#000" stroke="#000" stroke-width="0.15" font-weight="normal" font-style="normal" >Asymmetric Mg<tspan font-size="8" dy="-6">2+</tspan><tspan dy="6">; V</tspan><tspan font-size="7" dy="3">j</tspan></text>
<text transform="translate(572.1,940) scale(1,1.08)" font-size="12.5" text-anchor="start" fill="#000" stroke="#000" stroke-width="0.15" font-weight="normal" font-style="normal" >applied in high Mg<tspan font-size="8" dy="-6">2+</tspan><tspan dy="6"> side</tspan></text>
</svg></body></html>
